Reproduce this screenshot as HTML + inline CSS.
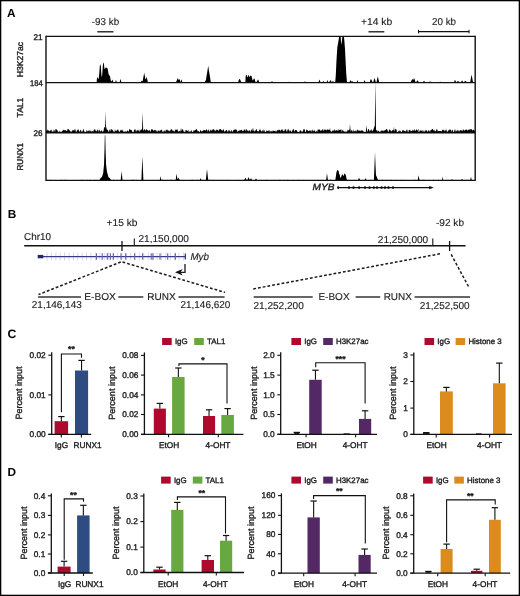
<!DOCTYPE html>
<html><head><meta charset="utf-8"><style>
html,body{margin:0;padding:0;background:#fff;}
svg{display:block;font-family:"Liberation Sans", sans-serif;will-change:transform;}
text{stroke:#1a1a1a;stroke-width:0.35px;text-rendering:geometricPrecision;}
</style></head><body>
<svg width="520" height="596" viewBox="0 0 520 596">
<rect x="0" y="0" width="520" height="596" fill="#fff"/>
<text x="7.1" y="17.2" font-size="11.8" text-anchor="start" font-weight="bold" fill="#000" style="stroke-width:0">A</text>
<text x="91.8" y="24.7" font-size="10.0" text-anchor="start" fill="#1a1a1a" textLength="27.3" lengthAdjust="spacingAndGlyphs" style="stroke-width:0.12px">-93 kb</text>
<line x1="97.3" y1="31.8" x2="113.5" y2="31.8" stroke="#111" stroke-width="1.3"/>
<text x="361.0" y="24.6" font-size="10.0" text-anchor="start" fill="#1a1a1a" textLength="31.2" lengthAdjust="spacingAndGlyphs" style="stroke-width:0.12px">+14 kb</text>
<line x1="368.5" y1="31.8" x2="384.3" y2="31.8" stroke="#111" stroke-width="1.3"/>
<text x="432.0" y="24.6" font-size="10.0" text-anchor="start" fill="#1a1a1a" textLength="24.0" lengthAdjust="spacingAndGlyphs" style="stroke-width:0.12px">20 kb</text>
<line x1="418.3" y1="31.6" x2="469.2" y2="31.6" stroke="#111" stroke-width="1.3"/>
<line x1="418.5" y1="29.8" x2="418.5" y2="33.4" stroke="#111" stroke-width="1.0"/>
<line x1="469.0" y1="29.8" x2="469.0" y2="33.4" stroke="#111" stroke-width="1.0"/>
<path d="M46.0,82.6 L46.00,82.43 L46.50,82.22 L47.00,82.34 L47.50,82.18 L48.00,82.16 L48.50,82.55 L49.00,82.59 L49.50,82.01 L50.00,82.42 L50.50,82.44 L51.00,81.90 L51.50,82.27 L52.00,82.01 L52.50,82.27 L53.00,82.15 L53.50,82.49 L54.00,82.16 L54.50,81.99 L55.00,82.23 L55.50,82.08 L56.00,82.13 L56.50,82.56 L57.00,82.07 L57.50,82.19 L58.00,82.39 L58.50,82.58 L59.00,81.99 L59.50,82.27 L60.00,82.10 L60.50,81.98 L61.00,82.10 L61.50,81.96 L62.00,82.32 L62.50,82.04 L63.00,82.29 L63.50,81.95 L64.00,81.98 L64.50,82.53 L65.00,82.50 L65.50,82.45 L66.00,81.92 L66.50,82.29 L67.00,82.16 L67.50,82.39 L68.00,82.24 L68.50,82.33 L69.00,82.35 L69.50,82.19 L70.00,82.19 L70.50,81.97 L71.00,82.12 L71.50,81.95 L72.00,82.00 L72.50,81.91 L73.00,82.13 L73.50,82.49 L74.00,82.00 L74.50,81.92 L75.00,81.97 L75.50,82.20 L76.00,82.10 L76.50,82.45 L77.00,82.02 L77.50,82.20 L78.00,82.40 L78.50,82.56 L79.00,82.00 L79.50,81.91 L80.00,82.54 L80.50,82.04 L81.00,82.31 L81.50,82.49 L82.00,82.39 L82.50,82.06 L83.00,81.99 L83.50,82.57 L84.00,82.17 L84.50,82.57 L85.00,82.10 L85.50,82.37 L86.00,81.98 L86.50,81.91 L87.00,82.25 L87.50,81.90 L88.00,82.38 L88.50,82.55 L89.00,82.18 L89.50,82.58 L90.00,82.46 L90.50,82.31 L91.00,82.17 L91.50,82.49 L92.00,82.57 L92.50,81.99 L93.00,82.38 L93.50,81.93 L94.00,81.97 L94.50,82.34 L95.00,82.28 L95.50,82.24 L96.00,82.15 L96.50,82.18 L97.00,82.21 L97.50,82.17 L98.00,81.94 L98.50,82.25 L99.00,82.30 L99.50,82.10 L100.00,82.43 L100.50,82.39 L101.00,81.92 L101.50,82.24 L102.00,82.22 L102.50,82.59 L103.00,82.31 L103.50,82.19 L104.00,82.59 L104.50,82.17 L105.00,82.16 L105.50,82.56 L106.00,82.16 L106.50,82.27 L107.00,82.12 L107.50,82.35 L108.00,82.11 L108.50,82.08 L109.00,82.58 L109.50,82.56 L110.00,82.13 L110.50,81.93 L111.00,82.42 L111.50,82.28 L112.00,82.19 L112.50,82.38 L113.00,82.35 L113.50,82.38 L114.00,82.34 L114.50,82.18 L115.00,82.39 L115.50,81.34 L116.00,80.06 L116.50,81.58 L117.00,82.20 L117.50,82.09 L118.00,82.38 L118.50,82.44 L119.00,82.04 L119.50,82.43 L119.60,82.47 L120.00,80.78 L120.50,78.71 L121.00,81.02 L121.40,82.37 L121.50,82.37 L122.00,82.02 L122.50,82.29 L123.00,82.00 L123.50,82.48 L124.00,82.36 L124.50,82.14 L125.00,81.98 L125.50,82.28 L126.00,82.44 L126.50,82.52 L127.00,82.23 L127.50,82.47 L128.00,82.04 L128.50,82.01 L129.00,82.47 L129.50,82.40 L130.00,82.03 L130.50,82.15 L131.00,82.04 L131.50,82.36 L132.00,82.51 L132.50,82.40 L133.00,82.04 L133.50,82.41 L134.00,82.36 L134.50,82.31 L135.00,82.31 L135.50,82.31 L136.00,81.96 L136.50,82.49 L137.00,82.60 L137.50,81.94 L138.00,81.98 L138.50,81.91 L139.00,82.30 L139.50,81.93 L140.00,81.95 L140.50,82.44 L141.00,81.58 L141.50,81.01 L142.00,80.64 L142.40,81.14 L142.50,81.40 L143.00,79.16 L143.50,76.57 L144.00,74.02 L144.20,72.59 L144.50,74.40 L145.00,76.70 L145.30,78.84 L145.50,79.30 L146.00,79.15 L146.50,76.88 L146.60,76.47 L147.00,78.16 L147.50,80.50 L147.90,82.59 L148.00,82.08 L148.50,82.48 L149.00,82.39 L149.50,82.14 L150.00,82.23 L150.50,82.31 L151.00,81.94 L151.50,82.17 L152.00,82.36 L152.50,82.42 L153.00,82.00 L153.50,82.27 L154.00,82.05 L154.50,82.35 L155.00,82.46 L155.50,82.23 L156.00,82.03 L156.50,82.48 L157.00,82.05 L157.50,81.95 L158.00,82.04 L158.50,82.02 L159.00,82.59 L159.50,82.16 L160.00,82.00 L160.50,82.57 L161.00,82.41 L161.50,82.41 L162.00,82.23 L162.50,82.30 L163.00,82.27 L163.50,82.06 L164.00,82.60 L164.50,82.56 L165.00,82.51 L165.50,82.51 L166.00,82.55 L166.50,81.92 L167.00,82.00 L167.50,82.54 L168.00,82.25 L168.50,82.38 L169.00,82.38 L169.50,82.35 L170.00,82.15 L170.50,82.19 L171.00,82.35 L171.50,82.47 L172.00,82.37 L172.50,82.51 L173.00,82.21 L173.50,82.10 L174.00,82.33 L174.50,82.54 L175.00,82.48 L175.50,82.34 L176.00,82.18 L176.50,80.89 L177.00,80.00 L177.50,78.54 L177.80,77.96 L178.00,78.56 L178.30,79.31 L178.50,79.69 L179.00,80.07 L179.50,78.81 L179.60,78.91 L180.00,80.24 L180.50,81.85 L180.70,82.22 L181.00,80.91 L181.50,79.35 L182.00,81.10 L182.30,82.30 L182.50,81.98 L183.00,81.94 L183.50,82.34 L184.00,81.97 L184.50,82.05 L185.00,82.42 L185.50,82.28 L186.00,82.51 L186.50,82.03 L187.00,82.14 L187.50,81.98 L188.00,82.05 L188.50,82.13 L189.00,82.09 L189.50,82.21 L190.00,82.53 L190.50,82.19 L191.00,82.60 L191.50,82.50 L192.00,82.06 L192.50,82.57 L193.00,82.54 L193.50,82.53 L194.00,81.98 L194.50,82.47 L195.00,82.58 L195.50,82.01 L196.00,82.52 L196.50,82.01 L197.00,82.13 L197.50,82.01 L198.00,81.93 L198.50,82.19 L199.00,82.04 L199.50,82.57 L200.00,82.06 L200.50,82.24 L201.00,82.10 L201.50,82.53 L202.00,82.08 L202.50,81.95 L203.00,82.56 L203.50,82.37 L204.00,82.21 L204.50,82.02 L205.00,81.43 L205.50,80.47 L205.60,80.63 L206.00,79.63 L206.50,76.36 L207.00,73.44 L207.50,70.29 L208.00,67.09 L208.20,65.85 L208.50,67.71 L209.00,71.12 L209.50,74.00 L210.00,76.84 L210.50,80.41 L210.80,82.08 L211.00,82.49 L211.50,82.12 L212.00,82.07 L212.50,82.13 L213.00,82.24 L213.50,82.26 L214.00,82.15 L214.50,81.97 L215.00,82.50 L215.50,82.53 L216.00,82.08 L216.50,81.96 L217.00,82.24 L217.50,82.29 L218.00,82.10 L218.50,82.47 L219.00,82.41 L219.50,82.46 L220.00,82.19 L220.50,82.38 L221.00,82.44 L221.50,82.12 L222.00,81.93 L222.50,82.39 L223.00,82.11 L223.50,82.31 L224.00,82.00 L224.50,82.19 L225.00,82.41 L225.50,82.45 L226.00,82.58 L226.50,82.26 L227.00,82.33 L227.50,82.48 L228.00,82.35 L228.50,82.37 L229.00,82.06 L229.50,82.50 L230.00,81.91 L230.50,82.26 L231.00,82.18 L231.50,82.27 L232.00,82.02 L232.50,82.02 L233.00,82.21 L233.50,82.26 L234.00,82.10 L234.50,82.00 L235.00,82.32 L235.50,82.09 L236.00,81.93 L236.50,82.27 L237.00,82.44 L237.50,82.44 L238.00,82.10 L238.50,82.13 L239.00,81.93 L239.50,82.00 L240.00,82.43 L240.50,82.47 L241.00,82.42 L241.50,82.47 L242.00,82.11 L242.50,82.00 L243.00,81.97 L243.50,82.42 L244.00,81.99 L244.50,82.38 L245.00,82.30 L245.50,82.09 L246.00,82.54 L246.50,82.54 L247.00,82.02 L247.50,82.40 L248.00,82.35 L248.50,82.19 L249.00,82.13 L249.50,82.60 L250.00,82.37 L250.50,82.29 L251.00,82.26 L251.50,82.45 L252.00,82.19 L252.50,81.93 L253.00,82.33 L253.50,82.22 L254.00,82.52 L254.50,82.41 L255.00,82.13 L255.50,82.52 L256.00,81.98 L256.50,81.96 L257.00,82.53 L257.50,81.94 L258.00,82.34 L258.50,82.06 L259.00,82.07 L259.50,82.39 L260.00,82.13 L260.50,82.14 L261.00,82.04 L261.50,82.41 L262.00,82.07 L262.50,81.93 L263.00,82.13 L263.50,82.22 L264.00,82.52 L264.50,82.25 L265.00,82.35 L265.50,82.10 L266.00,82.13 L266.50,82.20 L267.00,82.47 L267.50,82.15 L268.00,82.16 L268.50,82.47 L269.00,81.98 L269.50,82.14 L270.00,82.51 L270.50,81.95 L271.00,82.50 L271.50,81.87 L272.00,81.10 L272.50,81.68 L273.00,82.21 L273.50,82.15 L274.00,82.28 L274.50,82.38 L275.00,82.48 L275.50,82.55 L276.00,82.10 L276.50,82.07 L277.00,82.22 L277.50,82.08 L278.00,82.35 L278.50,82.41 L279.00,82.33 L279.50,81.99 L280.00,82.57 L280.50,82.25 L281.00,82.43 L281.50,82.06 L282.00,82.35 L282.50,82.37 L283.00,82.32 L283.50,82.22 L284.00,82.06 L284.50,82.35 L285.00,82.01 L285.50,82.52 L286.00,82.41 L286.50,82.53 L287.00,82.52 L287.50,82.05 L288.00,82.09 L288.50,82.07 L289.00,81.67 L289.50,81.91 L290.00,82.08 L290.50,82.03 L291.00,82.08 L291.50,82.19 L292.00,82.50 L292.50,82.32 L293.00,82.46 L293.50,82.23 L294.00,82.20 L294.50,82.46 L295.00,82.42 L295.50,82.05 L296.00,82.58 L296.50,82.04 L297.00,81.98 L297.50,81.94 L298.00,82.33 L298.50,82.21 L299.00,82.19 L299.50,82.16 L300.00,81.92 L300.50,82.12 L301.00,82.39 L301.50,82.00 L302.00,82.26 L302.50,82.18 L303.00,82.09 L303.50,82.60 L304.00,82.06 L304.50,81.74 L305.00,81.46 L305.50,81.83 L306.00,82.28 L306.50,82.46 L307.00,82.23 L307.50,82.57 L308.00,82.25 L308.50,82.15 L309.00,82.29 L309.50,82.20 L310.00,81.93 L310.50,81.98 L311.00,82.51 L311.50,82.05 L312.00,82.16 L312.50,82.56 L313.00,82.35 L313.50,82.44 L314.00,82.55 L314.50,82.22 L315.00,81.95 L315.50,82.37 L316.00,81.99 L316.50,82.11 L317.00,82.51 L317.50,82.00 L318.00,82.18 L318.50,81.95 L319.00,80.85 L319.50,79.58 L320.00,81.11 L320.50,82.04 L321.00,81.95 L321.50,82.00 L322.00,82.29 L322.50,82.07 L323.00,81.51 L323.50,81.02 L324.00,81.82 L324.50,82.55 L325.00,82.46 L325.50,82.49 L326.00,82.25 L326.50,82.11 L326.70,82.22 L327.00,81.48 L327.50,79.95 L328.00,81.56 L328.30,82.27 L328.50,82.07 L329.00,82.32 L329.50,81.81 L330.00,80.64 L330.50,80.10 L331.00,81.01 L331.50,81.67 L332.00,82.23 L332.20,82.18 L332.50,81.62 L333.00,80.40 L333.50,81.63 L333.80,82.05 L334.00,82.50 L334.50,82.28 L335.00,82.46 L335.50,82.45 L336.00,82.48 L336.50,82.32 L337.00,82.48 L337.50,82.58 L338.00,82.52 L338.50,82.48 L339.00,82.26 L339.50,82.56 L340.00,82.58 L340.50,82.29 L341.00,82.31 L341.50,82.11 L342.00,82.56 L342.50,82.32 L343.00,82.32 L343.50,82.58 L344.00,81.92 L344.50,82.45 L345.00,82.53 L345.50,82.27 L346.00,82.48 L346.50,82.16 L347.00,82.36 L347.50,82.51 L348.00,82.56 L348.50,82.09 L349.00,82.41 L349.50,82.05 L350.00,81.17 L350.50,79.75 L351.00,81.29 L351.50,81.68 L352.00,80.91 L352.50,81.28 L353.00,82.16 L353.50,82.36 L354.00,82.53 L354.50,82.12 L355.00,81.92 L355.50,82.19 L356.00,82.60 L356.50,82.58 L356.70,82.54 L357.00,81.54 L357.50,80.07 L358.00,81.62 L358.30,82.14 L358.50,81.97 L359.00,82.46 L359.50,81.92 L360.00,82.27 L360.50,82.04 L361.00,81.96 L361.50,81.94 L362.00,82.58 L362.50,82.39 L363.00,82.18 L363.30,81.94 L363.50,82.21 L364.00,81.23 L364.50,80.01 L365.00,81.35 L365.50,81.99 L365.70,82.37 L366.00,82.12 L366.50,81.95 L367.00,82.48 L367.50,82.08 L368.00,82.09 L368.50,82.02 L369.00,82.21 L369.50,81.95 L369.70,82.35 L369.90,81.68 L370.00,81.50 L370.50,79.55 L371.00,79.56 L371.20,79.21 L371.30,79.53 L371.50,79.63 L372.00,80.95 L372.50,82.10 L373.00,82.33 L373.20,82.26 L373.50,81.45 L374.00,79.33 L374.50,78.08 L375.00,79.50 L375.50,81.03 L375.80,82.13 L376.00,82.53 L376.50,82.43 L377.00,79.78 L377.50,77.69 L377.80,76.19 L378.00,77.08 L378.50,79.61 L379.00,81.53 L379.10,82.09 L379.50,82.37 L380.00,82.34 L380.50,82.55 L381.00,82.32 L381.50,81.93 L382.00,82.53 L382.50,82.20 L383.00,82.52 L383.50,82.54 L384.00,82.15 L384.50,82.43 L385.00,82.57 L385.50,82.49 L386.00,82.15 L386.50,82.19 L387.00,82.59 L387.50,82.44 L388.00,81.92 L388.50,82.45 L389.00,82.21 L389.50,82.31 L390.00,82.05 L390.50,82.18 L391.00,82.05 L391.50,82.23 L392.00,82.47 L392.50,82.48 L393.00,82.54 L393.50,82.02 L394.00,82.52 L394.50,82.58 L395.00,81.92 L395.50,82.46 L396.00,81.97 L396.50,82.54 L397.00,82.27 L397.50,82.44 L398.00,82.02 L398.50,82.17 L399.00,82.15 L399.50,82.07 L400.00,81.99 L400.50,82.36 L401.00,82.18 L401.50,82.29 L402.00,82.52 L402.50,82.02 L403.00,82.18 L403.50,82.03 L404.00,82.46 L404.50,82.22 L405.00,82.28 L405.50,82.09 L406.00,82.55 L406.50,82.36 L407.00,82.26 L407.50,82.55 L408.00,82.21 L408.50,82.09 L409.00,82.30 L409.50,82.15 L410.00,82.18 L410.50,82.45 L411.00,81.48 L411.50,80.15 L412.00,79.74 L412.50,78.80 L413.00,79.92 L413.50,79.38 L414.00,77.88 L414.50,78.88 L415.00,80.56 L415.50,81.99 L416.00,81.91 L416.30,82.17 L416.50,81.61 L417.00,81.06 L417.50,80.31 L418.00,80.77 L418.50,81.63 L418.70,81.94 L419.00,82.26 L419.50,82.06 L420.00,82.32 L420.50,81.90 L421.00,81.96 L421.50,82.40 L422.00,81.95 L422.50,82.47 L422.80,82.53 L423.00,81.84 L423.50,81.52 L424.00,80.74 L424.50,81.28 L425.00,82.32 L425.20,82.08 L425.50,82.41 L426.00,82.30 L426.50,82.36 L427.00,82.08 L427.50,82.08 L428.00,82.40 L428.50,82.53 L429.00,82.06 L429.50,81.65 L430.00,81.55 L430.50,81.83 L431.00,81.73 L431.50,82.11 L432.00,81.92 L432.50,81.91 L433.00,81.99 L433.50,82.34 L434.00,82.49 L434.50,82.38 L435.00,82.28 L435.50,82.23 L436.00,82.22 L436.50,82.35 L437.00,82.00 L437.50,82.40 L438.00,82.28 L438.50,81.98 L439.00,82.04 L439.50,81.99 L440.00,81.63 L440.50,81.64 L441.00,82.59 L441.50,82.51 L442.00,82.23 L442.50,82.22 L443.00,82.48 L443.50,82.56 L444.00,82.46 L444.50,82.06 L445.00,82.27 L445.50,81.91 L446.00,82.05 L446.50,81.91 L447.00,82.58 L447.50,82.47 L448.00,82.59 L448.50,82.30 L449.00,82.36 L449.50,82.56 L450.00,82.22 L450.50,82.53 L451.00,82.38 L451.50,82.43 L452.00,82.04 L452.50,82.31 L453.00,82.42 L453.50,82.57 L454.00,82.30 L454.50,80.96 L455.00,79.73 L455.50,80.76 L456.00,82.03 L456.50,82.43 L457.00,82.11 L457.50,81.27 L458.00,80.85 L458.50,81.44 L459.00,81.62 L459.50,82.21 L460.00,82.40 L460.50,82.48 L461.00,82.09 L461.50,81.15 L462.00,80.47 L462.50,80.97 L463.00,81.77 L463.50,82.13 L464.00,81.95 L464.50,81.53 L465.00,81.18 L465.50,80.81 L466.00,81.24 L466.50,81.98 L467.00,82.47 L467.50,82.12 L468.00,81.91 L468.50,82.22 L469.00,82.31 L469.50,82.35 L470.00,82.28 L470.20,82.04 L470.50,80.61 L471.00,77.47 L471.50,75.25 L471.60,74.58 L472.00,76.66 L472.50,79.53 L473.00,82.00 L473.50,82.02 L474.00,81.95 L474.50,82.17 L475.00,82.58 L475.2,82.6 Z" fill="#000"/>
<path d="M96.6,82.6 L97.0,78 L97.4,77 L97.9,78.5 L98.3,79 L98.8,78 L99.4,72 L99.8,66 L100.3,63.9 L100.8,66 L101.2,72 L101.6,76.5 L102.0,76.8 L102.4,72 L102.8,66 L103.3,62.6 L103.9,63.5 L104.4,68.5 L104.8,69 L105.4,68 L106.0,67.6 L106.8,67.8 L107.6,68.5 L108.2,72 L108.7,74.6 L109.4,75.5 L110.0,76.3 L110.5,79 L110.9,81 L111.4,81.5 L112.0,80.5 L112.5,79.4 L113.0,81 L113.5,82.6 Z" fill="#000"/>
<path d="M238.0,82.6 L238.8,80 L239.6,78.7 L240.4,80 L241.2,82.6 L245.3,82.6 L245.7,76 L246.2,75 L246.9,75.2 L247.3,77 L247.7,77.5 L248.1,75.3 L248.8,75.4 L249.3,76.5 L249.8,77 L250.2,76 L250.7,75.5 L251.5,76 L252.0,78 L252.5,80 L253.0,80.5 L253.6,79 L254.2,78.2 L254.8,79.5 L255.3,81.8 L256.5,82.0 L257.4,80.5 L258.1,79.6 L258.8,81 L259.3,82.6 Z" fill="#000"/>
<path d="M335.3,180.3 L335.9,176 L336.5,172 L337.2,170.2 L337.9,170 L338.6,171 L339.2,174 L339.8,175 L340.3,177.6 L340.9,177.8 L341.5,176 L342.0,174.6 L342.6,174.4 L343.2,175.5 L343.7,176 L344.2,174 L344.8,173.6 L345.4,174.2 L346.0,176 L346.6,179 L347.2,180.3 Z" fill="#000"/>
<path d="M99.5,180.3 L100.5,178 L102,177 L103.2,173 L104.0,165 L104.5,150 L104.8,136 L105.0,134.2 L105.3,136 L105.6,150 L106.1,165 L107.0,172 L107.6,174 L108.4,177 L109.5,178 L110.8,179.5 L111.5,180.3 Z" fill="#000"/>
<path d="M335.2,82.6 L335.8,75 L336.5,60 L337.3,47.5 L338.2,42.5 L339.0,37.5 L339.4,36.4 L340.6,36.4 L341.0,41 L341.4,45 L341.9,41 L342.4,36.4 L343.9,36.4 L344.4,41 L345.0,49 L345.6,61 L346.2,73 L347.0,82.6 Z" fill="#000"/>
<path d="M46.0,132.9 L46.00,130.76 L46.60,130.40 L47.20,129.16 L47.80,130.72 L48.40,130.57 L49.00,130.30 L49.60,131.67 L50.20,130.56 L50.80,130.16 L51.40,129.60 L52.00,131.98 L52.60,131.27 L53.20,131.99 L53.80,129.55 L54.40,129.94 L55.00,132.16 L55.60,128.96 L56.20,129.02 L56.80,130.08 L57.40,130.21 L58.00,131.76 L58.60,132.25 L59.20,130.50 L59.80,132.10 L60.40,131.65 L61.00,131.48 L61.60,132.20 L62.20,130.72 L62.80,130.80 L63.40,129.44 L64.00,130.53 L64.60,130.12 L65.20,130.60 L65.80,130.05 L66.40,130.75 L67.00,131.35 L67.60,128.91 L68.20,128.91 L68.80,129.44 L69.40,129.89 L70.00,131.23 L70.60,131.52 L71.20,131.32 L71.80,132.06 L72.40,129.69 L73.00,130.94 L73.60,129.42 L74.20,130.99 L74.80,129.04 L75.40,129.42 L76.00,132.30 L76.60,131.59 L77.20,129.21 L77.80,130.70 L78.40,128.97 L79.00,130.95 L79.60,132.05 L80.20,130.16 L80.80,129.65 L81.40,131.38 L82.00,132.00 L82.60,131.17 L83.20,129.02 L83.80,129.72 L84.40,131.90 L85.00,131.46 L85.60,131.96 L86.20,132.10 L86.80,129.59 L87.40,131.70 L88.00,130.40 L88.60,130.78 L89.20,131.65 L89.80,129.81 L90.40,131.85 L91.00,130.11 L91.60,131.90 L92.20,130.87 L92.80,131.58 L93.40,131.38 L94.00,129.00 L94.60,129.57 L95.20,131.27 L95.80,129.29 L96.40,131.58 L97.00,130.96 L97.60,129.40 L98.20,130.12 L98.80,131.96 L99.40,128.94 L100.00,131.57 L100.60,131.42 L101.20,129.67 L101.80,131.18 L102.40,131.29 L103.00,132.05 L103.60,130.39 L104.20,127.12 L104.50,127.47 L104.80,127.06 L104.90,128.10 L105.30,115.96 L105.40,110.54 L105.90,129.16 L106.00,128.60 L106.50,126.35 L106.60,128.93 L107.20,130.53 L107.70,129.21 L107.80,129.52 L108.40,131.45 L109.00,131.65 L109.60,129.79 L110.20,129.10 L110.80,131.63 L111.40,129.07 L112.00,129.30 L112.60,130.25 L113.20,130.87 L113.80,131.95 L114.40,132.17 L115.00,129.03 L115.60,131.49 L116.20,129.90 L116.80,131.43 L117.40,129.50 L117.50,130.27 L118.00,128.80 L118.50,131.70 L118.60,129.85 L119.20,132.07 L119.80,131.52 L120.40,130.40 L121.00,129.40 L121.60,130.21 L122.20,131.35 L122.80,129.18 L123.40,131.61 L124.00,132.24 L124.60,131.38 L125.20,130.78 L125.80,132.09 L126.40,131.70 L127.00,131.05 L127.60,130.35 L128.20,131.85 L128.80,131.07 L129.40,129.27 L130.00,128.97 L130.60,130.07 L131.20,129.95 L131.80,130.31 L132.40,131.82 L133.00,132.18 L133.60,132.24 L134.20,129.21 L134.80,129.92 L135.40,129.03 L136.00,132.23 L136.60,130.14 L137.20,130.66 L137.80,129.82 L138.40,131.22 L139.00,128.90 L139.60,132.04 L140.20,130.44 L140.80,129.79 L141.40,129.24 L142.00,129.79 L142.05,129.91 L142.60,112.30 L143.15,129.19 L143.20,131.10 L143.80,129.97 L144.40,129.24 L145.00,129.34 L145.60,130.88 L146.20,129.61 L146.80,129.36 L147.40,130.35 L148.00,130.18 L148.60,131.00 L149.20,130.32 L149.80,130.23 L150.40,132.03 L151.00,130.13 L151.60,128.92 L152.20,129.31 L152.80,129.82 L153.40,130.98 L154.00,129.80 L154.60,130.32 L155.20,130.80 L155.80,129.45 L156.40,132.02 L157.00,129.75 L157.60,132.20 L158.20,130.26 L158.80,130.66 L159.40,131.52 L160.00,129.93 L160.60,130.61 L161.20,130.21 L161.80,129.17 L162.40,131.43 L163.00,132.26 L163.60,131.28 L164.20,129.99 L164.80,131.61 L165.40,131.72 L166.00,129.22 L166.60,130.06 L167.20,130.80 L167.80,129.27 L168.40,131.19 L169.00,130.04 L169.60,131.63 L170.20,130.83 L170.80,129.56 L171.40,129.19 L172.00,129.31 L172.60,130.99 L173.20,130.32 L173.80,131.22 L174.40,131.84 L175.00,130.61 L175.60,129.45 L176.20,129.41 L176.80,129.88 L177.40,129.07 L178.00,131.36 L178.60,131.72 L179.20,130.77 L179.80,131.36 L180.40,131.57 L180.50,130.89 L181.00,127.67 L181.50,130.62 L181.60,131.23 L182.20,129.45 L182.80,128.96 L183.40,130.76 L184.00,132.05 L184.60,132.19 L185.20,129.33 L185.80,132.16 L186.40,129.89 L187.00,130.36 L187.60,131.25 L188.20,129.61 L188.80,132.24 L189.40,131.84 L190.00,130.75 L190.60,132.22 L191.20,129.48 L191.80,131.49 L192.40,131.82 L193.00,132.14 L193.60,130.16 L194.20,130.78 L194.80,130.16 L195.40,130.07 L196.00,129.55 L196.60,129.04 L197.20,129.97 L197.80,131.62 L198.40,130.68 L199.00,131.69 L199.60,132.26 L200.20,130.69 L200.80,129.87 L201.40,131.69 L202.00,131.37 L202.60,131.12 L203.20,129.93 L203.80,130.53 L204.40,130.21 L205.00,129.73 L205.60,130.96 L206.20,129.61 L206.80,129.22 L207.40,132.00 L208.00,129.13 L208.60,129.84 L209.20,131.86 L209.80,130.76 L210.40,130.17 L211.00,129.21 L211.60,131.02 L212.20,130.37 L212.80,129.31 L213.40,129.59 L214.00,129.09 L214.60,130.72 L215.20,130.09 L215.80,131.60 L216.40,129.85 L217.00,129.52 L217.60,130.12 L218.20,129.86 L218.80,131.57 L219.40,129.24 L220.00,128.97 L220.60,128.98 L221.20,130.47 L221.80,129.61 L222.40,131.21 L223.00,129.21 L223.60,129.39 L224.20,131.12 L224.80,132.02 L225.40,130.80 L226.00,130.43 L226.60,129.69 L227.20,130.64 L227.80,132.20 L228.40,129.55 L229.00,132.08 L229.60,129.58 L230.20,131.71 L230.80,131.16 L231.40,129.62 L232.00,131.82 L232.60,131.79 L233.20,130.54 L233.80,129.84 L234.40,129.44 L235.00,129.96 L235.60,129.08 L236.20,130.63 L236.80,129.07 L237.40,132.01 L238.00,131.55 L238.60,130.51 L239.20,131.31 L239.80,129.82 L240.40,130.13 L241.00,130.52 L241.60,129.43 L242.20,130.40 L242.80,131.24 L243.40,131.00 L244.00,129.43 L244.60,129.24 L245.20,131.59 L245.80,129.41 L246.40,129.01 L247.00,130.52 L247.60,130.35 L248.20,131.62 L248.80,130.48 L249.40,130.59 L250.00,130.24 L250.60,132.21 L251.20,129.00 L251.80,130.55 L252.40,130.94 L252.50,129.58 L253.00,127.39 L253.50,130.63 L253.60,129.95 L254.20,132.08 L254.80,130.47 L255.40,130.89 L256.00,129.05 L256.60,129.16 L257.20,131.38 L257.80,130.69 L258.40,131.87 L259.00,130.83 L259.60,129.53 L260.20,129.24 L260.80,130.68 L261.40,131.22 L262.00,131.65 L262.60,130.20 L263.20,129.15 L263.80,131.86 L264.40,129.65 L265.00,132.22 L265.60,131.64 L266.20,131.53 L266.80,129.96 L267.40,131.20 L268.00,131.09 L268.60,130.19 L269.20,131.94 L269.80,129.81 L270.40,131.88 L271.00,130.56 L271.60,131.45 L272.20,131.63 L272.80,130.50 L273.40,130.81 L274.00,131.02 L274.60,130.89 L275.20,130.50 L275.80,131.76 L276.40,131.61 L277.00,130.15 L277.60,130.13 L278.20,130.50 L278.80,129.41 L279.40,130.22 L280.00,129.39 L280.60,131.51 L281.20,129.78 L281.80,129.54 L282.40,129.23 L283.00,131.23 L283.60,131.23 L284.20,129.16 L284.80,131.56 L285.40,128.91 L286.00,129.28 L286.60,131.84 L287.20,131.49 L287.50,129.83 L287.80,129.62 L288.00,128.97 L288.40,128.87 L288.50,130.87 L289.00,129.61 L289.60,131.87 L290.20,130.93 L290.80,129.97 L291.40,132.24 L292.00,131.62 L292.60,129.98 L293.20,129.20 L293.80,129.01 L294.40,131.91 L295.00,130.58 L295.60,129.72 L296.20,130.59 L296.80,129.97 L297.40,131.66 L298.00,132.06 L298.60,131.94 L299.20,132.17 L299.80,130.42 L300.40,130.55 L301.00,130.37 L301.60,131.80 L302.20,131.67 L302.80,131.61 L303.40,129.44 L304.00,128.93 L304.60,129.15 L305.20,131.98 L305.80,132.09 L306.40,129.06 L307.00,130.73 L307.60,129.70 L308.20,131.19 L308.80,130.71 L309.40,130.55 L310.00,130.84 L310.60,130.26 L311.20,132.25 L311.80,129.92 L312.40,129.43 L313.00,131.68 L313.60,130.76 L314.20,129.79 L314.80,130.92 L315.40,131.64 L316.00,131.74 L316.60,130.56 L317.20,132.25 L317.80,129.26 L318.40,129.57 L319.00,129.90 L319.60,129.37 L320.20,130.16 L320.80,130.92 L321.40,130.26 L322.00,130.59 L322.60,128.96 L323.20,129.56 L323.80,131.42 L324.40,129.20 L325.00,129.77 L325.60,129.65 L326.20,129.53 L326.80,130.92 L327.40,129.25 L328.00,129.31 L328.60,129.94 L329.20,129.69 L329.50,129.70 L329.80,129.42 L330.00,127.34 L330.40,131.56 L330.50,131.14 L331.00,130.71 L331.60,132.26 L332.20,131.09 L332.80,130.13 L333.40,130.18 L334.00,131.51 L334.60,129.09 L335.20,130.04 L335.80,131.15 L336.40,130.06 L337.00,130.36 L337.60,130.49 L338.20,130.98 L338.80,128.90 L339.40,130.12 L340.00,129.92 L340.60,129.71 L341.20,128.97 L341.80,132.22 L342.40,130.21 L343.00,129.79 L343.60,131.43 L344.20,130.93 L344.80,132.13 L345.40,131.64 L346.00,131.02 L346.60,131.97 L347.20,131.45 L347.80,129.22 L348.40,130.43 L349.00,130.57 L349.50,129.01 L349.60,129.27 L350.00,123.42 L350.20,126.83 L350.50,129.55 L350.80,132.04 L351.40,130.27 L352.00,129.72 L352.60,132.15 L353.20,129.14 L353.80,131.76 L354.40,130.70 L355.00,131.72 L355.60,130.62 L356.20,130.22 L356.80,132.10 L357.40,129.09 L358.00,130.87 L358.60,130.51 L359.20,130.27 L359.80,131.06 L360.40,131.33 L361.00,130.07 L361.60,130.39 L362.20,131.34 L362.80,129.86 L363.40,131.29 L364.00,132.25 L364.60,131.47 L365.20,132.15 L365.80,131.77 L366.00,129.73 L366.40,127.37 L366.50,124.75 L367.00,129.76 L367.60,132.13 L368.20,128.94 L368.80,129.09 L369.40,132.05 L370.00,129.22 L370.60,130.84 L371.20,130.68 L371.80,128.99 L372.40,131.47 L373.00,130.52 L373.60,129.11 L374.20,127.34 L374.80,125.71 L375.40,80.47 L376.00,129.52 L376.60,130.25 L377.20,131.91 L377.80,130.18 L378.40,130.75 L379.00,131.61 L379.60,132.12 L380.20,130.50 L380.80,131.88 L381.40,130.79 L382.00,130.03 L382.60,130.75 L383.20,131.41 L383.80,130.32 L384.40,130.87 L385.00,129.65 L385.60,130.50 L386.20,128.91 L386.80,129.06 L387.40,129.80 L388.00,131.49 L388.60,131.91 L389.20,129.26 L389.80,129.63 L390.40,130.18 L391.00,131.08 L391.60,131.38 L392.20,129.97 L392.80,130.38 L393.40,130.29 L393.50,130.15 L394.00,126.74 L394.50,131.65 L394.60,131.45 L395.20,128.97 L395.80,129.19 L396.40,129.31 L397.00,132.17 L397.60,132.09 L398.20,131.38 L398.80,130.85 L399.40,130.18 L400.00,131.95 L400.60,130.46 L401.20,132.05 L401.80,132.01 L402.40,130.00 L403.00,130.43 L403.60,130.15 L404.20,131.03 L404.80,130.67 L405.40,131.58 L406.00,131.13 L406.60,129.77 L407.20,129.45 L407.80,132.05 L408.40,131.89 L409.00,129.55 L409.60,130.18 L410.20,129.69 L410.80,131.58 L411.40,130.86 L412.00,131.42 L412.60,129.55 L413.20,131.05 L413.80,130.08 L414.40,128.94 L415.00,131.19 L415.60,130.43 L416.20,129.76 L416.80,129.17 L417.40,130.85 L417.50,131.04 L418.00,129.17 L418.50,129.32 L418.60,132.03 L419.20,132.02 L419.80,130.38 L420.40,130.65 L421.00,129.97 L421.60,131.28 L422.20,129.66 L422.80,132.04 L423.40,131.57 L424.00,130.05 L424.60,132.02 L425.20,131.27 L425.80,129.84 L426.40,129.94 L427.00,131.34 L427.60,131.81 L428.20,131.08 L428.80,129.83 L429.40,131.05 L430.00,131.90 L430.60,129.89 L431.20,130.36 L431.80,129.18 L432.40,129.10 L433.00,129.19 L433.60,130.81 L434.20,129.57 L434.80,131.26 L435.40,131.22 L436.00,130.94 L436.60,129.12 L437.20,129.26 L437.80,131.46 L438.40,131.07 L439.00,131.06 L439.60,131.06 L440.20,130.95 L440.80,130.98 L441.40,131.64 L442.00,130.38 L442.60,129.59 L443.20,130.46 L443.80,129.46 L444.40,130.39 L445.00,131.70 L445.60,129.72 L446.20,129.30 L446.80,131.34 L447.40,132.22 L448.00,130.55 L448.60,130.45 L449.20,130.37 L449.80,129.01 L450.40,130.09 L451.00,129.57 L451.60,132.08 L452.20,130.44 L452.80,129.62 L453.40,132.01 L454.00,132.02 L454.60,129.79 L455.20,129.24 L455.80,132.01 L456.40,130.14 L457.00,131.81 L457.60,129.76 L458.20,130.09 L458.80,131.47 L459.40,131.55 L460.00,129.70 L460.60,130.53 L461.20,129.70 L461.80,130.96 L462.40,131.15 L463.00,129.01 L463.60,130.01 L464.20,130.62 L464.80,130.47 L465.40,129.85 L466.00,129.89 L466.60,129.19 L467.20,130.90 L467.80,129.49 L468.40,130.03 L469.00,129.40 L469.60,129.56 L470.20,129.46 L470.80,129.28 L471.40,129.04 L472.00,130.12 L472.60,130.52 L473.20,129.89 L473.80,129.57 L474.40,130.87 L475.00,130.87 L475.2,132.9 Z" fill="#000"/>
<path d="M46.0,180.3 L46.00,179.99 L46.50,179.93 L47.00,179.90 L47.50,179.83 L48.00,179.93 L48.50,179.84 L49.00,180.29 L49.50,180.07 L50.00,179.83 L50.50,179.98 L51.00,179.85 L51.50,180.24 L52.00,180.07 L52.50,180.18 L53.00,180.03 L53.50,180.01 L54.00,180.29 L54.50,180.19 L55.00,180.16 L55.50,179.84 L56.00,179.92 L56.50,180.22 L57.00,179.90 L57.50,180.23 L58.00,179.99 L58.50,180.24 L59.00,180.30 L59.50,179.86 L60.00,180.20 L60.50,180.19 L61.00,179.81 L61.50,179.86 L62.00,180.16 L62.50,179.82 L63.00,180.03 L63.50,179.96 L64.00,180.20 L64.50,179.83 L65.00,179.95 L65.50,179.82 L66.00,179.85 L66.50,180.15 L67.00,180.12 L67.50,180.22 L68.00,180.23 L68.50,180.27 L69.00,180.15 L69.50,180.00 L70.00,180.30 L70.50,179.96 L71.00,180.13 L71.50,180.15 L72.00,179.89 L72.50,180.06 L73.00,180.14 L73.50,180.06 L74.00,179.95 L74.50,180.27 L75.00,179.81 L75.50,180.29 L76.00,179.93 L76.50,179.88 L77.00,180.29 L77.50,179.91 L78.00,180.12 L78.50,180.01 L79.00,180.30 L79.50,180.28 L80.00,180.21 L80.50,179.82 L81.00,180.20 L81.50,179.92 L82.00,179.84 L82.50,179.83 L83.00,180.13 L83.50,180.12 L84.00,180.04 L84.50,179.91 L85.00,180.25 L85.50,179.93 L86.00,179.90 L86.50,179.87 L87.00,180.28 L87.50,179.83 L88.00,180.25 L88.50,180.13 L89.00,179.99 L89.50,179.84 L90.00,180.13 L90.50,179.84 L91.00,180.03 L91.50,180.14 L92.00,180.14 L92.50,180.21 L93.00,180.26 L93.50,180.23 L94.00,179.96 L94.50,179.80 L95.00,180.22 L95.50,180.28 L96.00,179.81 L96.50,180.03 L97.00,180.10 L97.50,180.18 L98.00,180.00 L98.50,179.89 L99.00,180.07 L99.50,180.09 L100.00,180.27 L100.50,179.84 L101.00,180.28 L101.50,180.05 L102.00,179.88 L102.50,180.23 L103.00,179.93 L103.50,179.83 L104.00,179.98 L104.50,179.91 L105.00,180.25 L105.50,180.08 L106.00,180.23 L106.50,179.88 L107.00,180.15 L107.50,180.07 L108.00,179.80 L108.50,179.87 L109.00,179.81 L109.50,180.07 L110.00,180.06 L110.50,179.94 L111.00,180.06 L111.50,180.15 L112.00,180.10 L112.50,180.23 L113.00,180.11 L113.50,179.81 L114.00,179.82 L114.50,179.99 L115.00,180.05 L115.50,180.13 L116.00,180.26 L116.50,180.16 L117.00,179.91 L117.50,179.87 L118.00,180.12 L118.50,179.91 L119.00,179.91 L119.50,179.95 L120.00,179.97 L120.50,179.92 L120.70,180.12 L121.00,176.95 L121.50,172.16 L121.60,171.06 L122.00,174.92 L122.50,179.95 L123.00,180.15 L123.50,179.83 L124.00,179.98 L124.50,180.01 L125.00,180.29 L125.50,180.03 L126.00,180.17 L126.50,179.96 L127.00,180.07 L127.50,179.89 L128.00,179.98 L128.50,179.90 L129.00,180.13 L129.50,179.98 L130.00,179.93 L130.50,179.89 L131.00,180.12 L131.50,179.88 L132.00,179.87 L132.50,179.96 L133.00,179.81 L133.50,179.82 L134.00,180.04 L134.50,180.04 L135.00,180.22 L135.50,179.88 L136.00,179.83 L136.50,180.06 L137.00,179.95 L137.50,179.94 L138.00,179.93 L138.50,180.21 L139.00,179.91 L139.50,180.01 L140.00,179.97 L140.50,180.09 L141.00,179.99 L141.40,179.91 L141.50,177.58 L142.00,165.54 L142.40,156.29 L142.50,158.62 L143.00,170.48 L143.40,179.97 L143.50,180.19 L144.00,179.96 L144.50,179.98 L145.00,180.28 L145.50,180.06 L146.00,180.19 L146.50,180.27 L147.00,180.23 L147.50,180.14 L148.00,180.21 L148.50,180.20 L149.00,180.28 L149.50,180.07 L150.00,180.11 L150.50,179.99 L151.00,180.00 L151.50,180.18 L152.00,179.85 L152.50,180.30 L153.00,180.10 L153.50,180.16 L154.00,180.09 L154.50,180.24 L155.00,179.88 L155.50,180.11 L156.00,180.28 L156.50,179.99 L157.00,180.25 L157.50,180.03 L158.00,180.13 L158.50,180.01 L159.00,179.82 L159.50,179.89 L159.90,180.09 L160.00,179.32 L160.50,176.55 L160.60,176.12 L161.00,178.51 L161.30,180.00 L161.50,180.02 L162.00,179.82 L162.50,179.82 L163.00,180.00 L163.50,180.12 L164.00,179.85 L164.50,180.30 L165.00,180.25 L165.50,180.02 L166.00,179.99 L166.50,180.23 L167.00,179.99 L167.50,179.85 L168.00,180.11 L168.50,180.08 L169.00,180.19 L169.50,180.15 L170.00,179.81 L170.50,180.11 L171.00,179.82 L171.50,179.84 L172.00,180.00 L172.50,180.17 L173.00,179.81 L173.50,180.05 L174.00,180.09 L174.50,180.14 L175.00,179.81 L175.50,180.05 L175.60,180.16 L176.00,177.46 L176.50,174.39 L176.60,173.49 L177.00,176.18 L177.30,178.20 L177.50,179.26 L177.60,179.26 L178.00,178.84 L178.50,177.53 L179.00,178.70 L179.50,179.42 L179.70,179.91 L180.00,180.18 L180.50,180.17 L181.00,180.22 L181.50,179.81 L182.00,180.15 L182.50,180.00 L183.00,180.06 L183.50,179.98 L184.00,180.00 L184.50,179.93 L185.00,180.24 L185.50,179.92 L186.00,180.15 L186.50,180.03 L187.00,180.13 L187.50,180.15 L188.00,180.04 L188.50,180.07 L189.00,180.12 L189.50,179.93 L190.00,180.00 L190.50,180.28 L191.00,180.17 L191.50,180.07 L192.00,179.84 L192.50,179.86 L193.00,180.03 L193.50,180.29 L194.00,179.91 L194.50,180.09 L195.00,180.01 L195.50,179.95 L196.00,179.98 L196.50,180.06 L197.00,179.84 L197.50,180.11 L198.00,180.10 L198.50,179.87 L199.00,180.20 L199.50,180.15 L199.80,179.88 L200.00,179.77 L200.50,178.13 L200.60,177.95 L201.00,179.08 L201.40,180.16 L201.50,179.91 L202.00,179.84 L202.50,180.23 L203.00,180.06 L203.50,180.03 L204.00,180.05 L204.50,180.13 L205.00,180.22 L205.50,180.01 L205.80,179.89 L206.00,178.43 L206.50,173.77 L207.00,168.89 L207.50,173.49 L208.00,178.13 L208.20,180.29 L208.50,179.94 L209.00,179.81 L209.50,179.80 L210.00,179.95 L210.50,180.28 L211.00,179.88 L211.50,180.19 L212.00,179.98 L212.50,179.82 L213.00,179.94 L213.50,180.23 L214.00,180.15 L214.50,179.84 L215.00,180.23 L215.50,179.99 L216.00,180.09 L216.50,180.22 L217.00,179.99 L217.50,180.28 L218.00,180.25 L218.50,180.11 L219.00,180.26 L219.50,180.27 L220.00,180.01 L220.50,179.93 L221.00,179.86 L221.50,180.23 L222.00,180.08 L222.50,180.14 L223.00,180.00 L223.50,180.06 L224.00,179.83 L224.50,180.11 L225.00,180.27 L225.50,179.95 L226.00,180.22 L226.50,179.98 L227.00,180.05 L227.50,179.84 L228.00,180.02 L228.50,179.99 L229.00,180.17 L229.50,180.02 L230.00,180.17 L230.50,179.92 L231.00,180.04 L231.50,180.23 L232.00,180.18 L232.50,180.11 L233.00,179.93 L233.50,180.21 L234.00,179.94 L234.50,179.97 L235.00,180.26 L235.50,179.97 L236.00,180.25 L236.50,180.24 L237.00,180.00 L237.50,180.18 L238.00,179.86 L238.50,180.06 L239.00,180.14 L239.50,179.90 L240.00,180.29 L240.50,179.94 L241.00,180.27 L241.50,180.22 L242.00,179.82 L242.50,179.96 L243.00,180.19 L243.50,180.24 L244.00,179.81 L244.30,179.97 L244.50,179.47 L245.00,178.77 L245.50,177.49 L246.00,178.66 L246.50,179.77 L246.70,180.13 L247.00,179.99 L247.30,180.13 L247.50,179.61 L248.00,178.48 L248.50,176.88 L249.00,178.23 L249.50,179.40 L249.70,180.08 L250.00,179.87 L250.50,179.04 L251.00,178.00 L251.50,179.01 L252.00,179.93 L252.50,180.10 L253.00,180.25 L253.50,180.28 L254.00,180.20 L254.50,180.28 L255.00,179.86 L255.20,180.06 L255.50,179.17 L256.00,178.30 L256.50,179.31 L256.80,179.86 L257.00,179.99 L257.50,180.09 L258.00,180.07 L258.50,180.25 L259.00,180.22 L259.50,180.22 L260.00,180.11 L260.50,180.11 L261.00,179.86 L261.50,180.22 L262.00,180.17 L262.50,180.16 L263.00,180.22 L263.50,180.16 L264.00,180.18 L264.50,180.06 L265.00,180.28 L265.50,179.84 L266.00,180.12 L266.50,179.83 L267.00,179.96 L267.50,179.96 L268.00,180.06 L268.50,179.83 L269.00,180.24 L269.50,179.97 L270.00,180.15 L270.50,179.96 L271.00,179.94 L271.50,180.22 L272.00,180.20 L272.50,180.29 L273.00,180.18 L273.50,180.26 L274.00,180.10 L274.50,179.81 L275.00,180.12 L275.50,180.14 L276.00,180.07 L276.50,180.16 L277.00,179.93 L277.50,179.94 L278.00,180.22 L278.50,180.18 L279.00,179.96 L279.50,179.83 L280.00,179.98 L280.50,180.08 L281.00,179.81 L281.50,180.30 L282.00,180.27 L282.50,179.91 L283.00,180.09 L283.50,180.28 L284.00,180.03 L284.50,179.81 L285.00,180.04 L285.50,180.12 L286.00,180.25 L286.50,180.26 L287.00,179.85 L287.50,180.05 L288.00,179.83 L288.50,180.27 L289.00,180.18 L289.50,180.27 L290.00,180.10 L290.50,180.27 L291.00,180.17 L291.50,180.10 L292.00,180.15 L292.50,180.27 L293.00,180.28 L293.50,179.81 L294.00,180.21 L294.50,180.05 L295.00,180.10 L295.50,180.03 L296.00,180.26 L296.50,180.14 L297.00,180.25 L297.50,180.03 L298.00,179.84 L298.50,180.00 L299.00,179.87 L299.50,180.19 L300.00,180.29 L300.50,180.03 L301.00,180.06 L301.50,180.01 L302.00,180.11 L302.50,179.99 L303.00,179.94 L303.50,179.84 L304.00,180.15 L304.50,180.08 L305.00,179.89 L305.50,180.19 L306.00,180.24 L306.50,180.14 L307.00,180.26 L307.50,179.91 L308.00,179.89 L308.50,180.14 L309.00,180.24 L309.50,180.26 L310.00,180.18 L310.50,180.26 L311.00,180.09 L311.50,180.01 L312.00,180.18 L312.50,180.27 L313.00,179.95 L313.50,180.28 L314.00,180.20 L314.50,180.16 L315.00,180.11 L315.50,180.25 L316.00,180.09 L316.50,180.14 L317.00,179.92 L317.50,180.02 L318.00,179.85 L318.50,179.97 L319.00,179.92 L319.50,180.01 L320.00,180.08 L320.50,179.89 L321.00,179.97 L321.50,179.82 L322.00,179.94 L322.50,179.95 L323.00,180.17 L323.50,179.89 L324.00,180.11 L324.50,180.23 L325.00,180.27 L325.50,180.22 L326.00,180.17 L326.10,179.96 L326.50,177.05 L327.00,173.27 L327.50,176.81 L327.90,180.02 L328.00,180.29 L328.50,180.27 L329.00,180.23 L329.50,180.12 L330.00,179.87 L330.50,179.83 L331.00,179.99 L331.50,180.18 L332.00,180.09 L332.50,180.12 L333.00,180.13 L333.50,180.29 L334.00,180.01 L334.50,179.89 L335.00,179.94 L335.50,180.25 L336.00,180.03 L336.50,180.21 L337.00,179.95 L337.50,180.08 L338.00,179.83 L338.50,179.90 L339.00,180.24 L339.50,180.14 L340.00,179.84 L340.50,180.07 L341.00,180.08 L341.50,180.08 L342.00,179.92 L342.50,179.83 L343.00,180.03 L343.50,179.82 L344.00,180.00 L344.50,180.25 L345.00,179.89 L345.50,180.09 L346.00,180.27 L346.50,179.81 L347.00,180.28 L347.50,180.01 L348.00,180.06 L348.50,179.86 L349.00,180.10 L349.50,180.19 L350.00,180.16 L350.50,180.20 L351.00,180.02 L351.50,180.12 L352.00,179.92 L352.50,180.18 L353.00,180.12 L353.50,180.18 L354.00,179.81 L354.50,179.88 L355.00,179.88 L355.50,179.99 L356.00,180.10 L356.50,180.23 L357.00,179.88 L357.50,180.05 L358.00,180.28 L358.50,178.97 L359.00,177.75 L359.50,178.69 L360.00,179.85 L360.50,180.20 L361.00,179.90 L361.50,180.14 L362.00,179.96 L362.50,179.87 L363.00,179.99 L363.50,179.90 L364.00,180.11 L364.50,180.29 L365.00,179.04 L365.50,178.01 L366.00,179.21 L366.50,180.11 L367.00,180.14 L367.50,180.29 L368.00,180.14 L368.50,180.11 L369.00,180.06 L369.50,179.95 L370.00,180.10 L370.50,179.81 L371.00,179.89 L371.50,179.84 L372.00,179.95 L372.50,179.96 L373.00,180.03 L373.50,179.90 L373.90,180.12 L374.00,177.46 L374.50,164.69 L375.00,152.04 L375.50,164.89 L376.00,175.26 L376.10,175.51 L376.50,176.37 L377.00,177.51 L377.50,178.67 L378.00,179.94 L378.50,180.15 L379.00,179.84 L379.50,180.16 L380.00,179.94 L380.50,180.26 L381.00,179.92 L381.50,179.97 L382.00,179.82 L382.50,179.85 L383.00,179.96 L383.50,179.88 L384.00,179.93 L384.50,179.99 L385.00,180.20 L385.50,180.04 L386.00,179.85 L386.50,180.18 L387.00,179.81 L387.50,180.03 L388.00,180.10 L388.50,180.30 L389.00,180.10 L389.50,180.21 L390.00,179.97 L390.50,179.85 L391.00,179.84 L391.50,179.99 L392.00,180.11 L392.50,180.25 L393.00,179.96 L393.50,180.02 L394.00,179.94 L394.50,180.11 L395.00,179.86 L395.50,180.19 L396.00,180.15 L396.50,180.17 L397.00,179.99 L397.50,179.85 L398.00,180.22 L398.50,179.98 L399.00,179.92 L399.50,180.19 L400.00,180.27 L400.50,180.02 L401.00,179.88 L401.50,179.86 L402.00,179.94 L402.50,180.09 L403.00,180.09 L403.50,180.04 L404.00,179.85 L404.50,180.15 L405.00,180.16 L405.50,180.00 L406.00,179.82 L406.50,180.21 L407.00,180.28 L407.50,180.24 L408.00,180.02 L408.50,180.00 L409.00,180.21 L409.50,180.20 L410.00,180.00 L410.50,179.98 L411.00,179.95 L411.50,179.94 L412.00,180.27 L412.50,180.06 L413.00,179.88 L413.50,179.82 L414.00,180.14 L414.50,179.87 L415.00,179.98 L415.50,179.84 L416.00,180.19 L416.50,179.95 L417.00,179.88 L417.50,180.06 L417.70,180.25 L418.00,178.54 L418.50,175.78 L418.60,175.25 L419.00,177.45 L419.50,179.99 L420.00,180.25 L420.50,179.92 L421.00,179.93 L421.50,179.89 L422.00,179.90 L422.50,179.94 L423.00,179.84 L423.50,179.82 L424.00,179.99 L424.50,179.82 L425.00,180.25 L425.50,180.25 L426.00,180.27 L426.50,180.20 L427.00,180.11 L427.50,180.07 L428.00,179.96 L428.50,179.93 L429.00,180.26 L429.50,180.10 L430.00,180.03 L430.50,180.11 L431.00,180.24 L431.50,180.00 L432.00,180.11 L432.50,179.96 L433.00,180.05 L433.50,179.82 L434.00,179.83 L434.50,180.26 L435.00,179.92 L435.50,179.94 L436.00,180.15 L436.50,180.24 L437.00,180.06 L437.50,180.12 L438.00,179.93 L438.50,179.84 L439.00,180.11 L439.50,180.15 L440.00,180.05 L440.50,179.95 L441.00,179.91 L441.50,180.01 L442.00,180.15 L442.50,177.21 L442.60,176.38 L443.00,178.87 L443.20,180.27 L443.50,180.09 L444.00,180.18 L444.50,179.97 L445.00,180.26 L445.50,180.16 L446.00,180.25 L446.50,180.06 L447.00,179.81 L447.50,180.03 L448.00,180.11 L448.50,179.83 L449.00,180.25 L449.50,180.12 L450.00,179.89 L450.50,180.30 L451.00,179.92 L451.50,179.62 L452.00,179.29 L452.50,179.67 L453.00,180.07 L453.50,180.11 L454.00,180.04 L454.50,180.27 L455.00,180.19 L455.50,179.81 L456.00,180.08 L456.50,180.06 L457.00,180.26 L457.50,180.16 L458.00,179.82 L458.50,179.96 L459.00,180.05 L459.50,180.27 L460.00,180.10 L460.50,179.91 L461.00,180.08 L461.50,179.50 L462.00,178.85 L462.50,179.48 L463.00,179.98 L463.50,180.28 L464.00,180.29 L464.50,179.92 L465.00,180.09 L465.50,179.86 L466.00,179.89 L466.50,179.84 L467.00,180.11 L467.50,179.80 L468.00,179.92 L468.50,179.85 L469.00,180.23 L469.50,179.91 L470.00,180.09 L470.30,179.81 L470.50,178.80 L471.00,176.69 L471.50,179.09 L471.70,180.16 L472.00,180.07 L472.50,180.16 L473.00,179.97 L473.50,180.24 L474.00,180.22 L474.50,180.07 L475.00,180.26 L475.2,180.3 Z" fill="#000"/>
<line x1="46.0" y1="36.4" x2="475.2" y2="36.4" stroke="#111" stroke-width="1.3"/>
<line x1="46.0" y1="82.6" x2="475.2" y2="82.6" stroke="#111" stroke-width="1.3"/>
<line x1="46.0" y1="132.9" x2="475.2" y2="132.9" stroke="#111" stroke-width="1.3"/>
<line x1="46.0" y1="180.3" x2="475.2" y2="180.3" stroke="#111" stroke-width="1.3"/>
<line x1="46.0" y1="35.8" x2="46.0" y2="180.9" stroke="#111" stroke-width="1.4"/>
<line x1="475.2" y1="35.8" x2="475.2" y2="180.9" stroke="#111" stroke-width="1.4"/>
<text x="42.6" y="39.6" font-size="8.2" text-anchor="end" fill="#1a1a1a">21</text>
<text x="42.6" y="85.6" font-size="8.2" text-anchor="end" fill="#1a1a1a" textLength="12.6" lengthAdjust="spacingAndGlyphs">184</text>
<text x="42.6" y="136.4" font-size="8.2" text-anchor="end" fill="#1a1a1a">26</text>
<text x="22.6" y="59.6" font-size="8.6" text-anchor="middle" fill="#1a1a1a" transform="rotate(-90 22.6 59.6)">H3K27ac</text>
<text x="22.6" y="107.6" font-size="8.6" text-anchor="middle" fill="#1a1a1a" transform="rotate(-90 22.6 107.6)" textLength="19.6" lengthAdjust="spacingAndGlyphs">TAL1</text>
<text x="22.6" y="156.8" font-size="8.6" text-anchor="middle" fill="#1a1a1a" transform="rotate(-90 22.6 156.8)" textLength="27.4" lengthAdjust="spacingAndGlyphs">RUNX1</text>
<text x="312.6" y="190.2" font-size="9.2" text-anchor="start" font-style="italic" fill="#1a1a1a" textLength="22.0" lengthAdjust="spacingAndGlyphs">MYB</text>
<line x1="337.4" y1="187.6" x2="431.0" y2="187.6" stroke="#111" stroke-width="1.3"/>
<rect x="337.4" y="186.3" width="1.6" height="2.6" fill="#111"/>
<rect x="348.2" y="186.3" width="1.6" height="2.6" fill="#111"/>
<rect x="352.7" y="186.3" width="1.6" height="2.6" fill="#111"/>
<rect x="358.4" y="186.3" width="1.6" height="2.6" fill="#111"/>
<rect x="364.2" y="186.3" width="1.6" height="2.6" fill="#111"/>
<rect x="368.7" y="186.3" width="1.6" height="2.6" fill="#111"/>
<rect x="373.0" y="186.3" width="1.6" height="2.6" fill="#111"/>
<rect x="376.2" y="186.3" width="1.6" height="2.6" fill="#111"/>
<rect x="380.7" y="186.3" width="1.6" height="2.6" fill="#111"/>
<rect x="384.2" y="186.3" width="1.6" height="2.6" fill="#111"/>
<rect x="387.7" y="186.3" width="1.6" height="2.6" fill="#111"/>
<rect x="392.2" y="186.3" width="1.6" height="2.6" fill="#111"/>
<path d="M433.8,187.6 L429.2,185.9 L429.2,189.3 Z" fill="#111"/>
<text x="7.7" y="218.4" font-size="11.8" text-anchor="start" font-weight="bold" fill="#000" style="stroke-width:0">B</text>
<text x="24.0" y="240.3" font-size="10.0" text-anchor="start" fill="#1a1a1a" textLength="27.0" lengthAdjust="spacingAndGlyphs" style="stroke-width:0.12px">Chr10</text>
<line x1="24.2" y1="245.8" x2="465.6" y2="245.8" stroke="#111" stroke-width="1.4"/>
<line x1="122.0" y1="241.0" x2="122.0" y2="251.0" stroke="#111" stroke-width="1.3"/>
<line x1="134.3" y1="238.6" x2="134.3" y2="245.8" stroke="#111" stroke-width="1.1"/>
<text x="138.4" y="242.2" font-size="10.0" text-anchor="start" fill="#1a1a1a" textLength="50.6" lengthAdjust="spacingAndGlyphs" style="stroke-width:0.12px">21,150,000</text>
<text x="106.6" y="226.0" font-size="10.0" text-anchor="start" fill="#1a1a1a" textLength="30.8" lengthAdjust="spacingAndGlyphs" style="stroke-width:0.12px">+15 kb</text>
<line x1="432.8" y1="238.6" x2="432.8" y2="245.8" stroke="#111" stroke-width="1.1"/>
<text x="377.8" y="242.8" font-size="10.0" text-anchor="start" fill="#1a1a1a" textLength="50.4" lengthAdjust="spacingAndGlyphs" style="stroke-width:0.12px">21,250,000</text>
<line x1="449.6" y1="241.0" x2="449.6" y2="251.0" stroke="#111" stroke-width="1.3"/>
<text x="436.0" y="226.2" font-size="10.0" text-anchor="start" fill="#1a1a1a" textLength="28.0" lengthAdjust="spacingAndGlyphs" style="stroke-width:0.12px">-92 kb</text>
<line x1="47.0" y1="252.6" x2="47.0" y2="260.4" stroke="#d6d6ec" stroke-width="1.0"/>
<line x1="51.4" y1="252.6" x2="51.4" y2="260.4" stroke="#d6d6ec" stroke-width="1.0"/>
<line x1="55.8" y1="252.6" x2="55.8" y2="260.4" stroke="#d6d6ec" stroke-width="1.0"/>
<line x1="60.2" y1="252.6" x2="60.2" y2="260.4" stroke="#d6d6ec" stroke-width="1.0"/>
<line x1="64.6" y1="252.6" x2="64.6" y2="260.4" stroke="#d6d6ec" stroke-width="1.0"/>
<line x1="69.0" y1="252.6" x2="69.0" y2="260.4" stroke="#d6d6ec" stroke-width="1.0"/>
<line x1="73.4" y1="252.6" x2="73.4" y2="260.4" stroke="#d6d6ec" stroke-width="1.0"/>
<line x1="77.80000000000001" y1="252.6" x2="77.80000000000001" y2="260.4" stroke="#d6d6ec" stroke-width="1.0"/>
<line x1="82.2" y1="252.6" x2="82.2" y2="260.4" stroke="#d6d6ec" stroke-width="1.0"/>
<line x1="86.6" y1="252.6" x2="86.6" y2="260.4" stroke="#d6d6ec" stroke-width="1.0"/>
<line x1="91.0" y1="252.6" x2="91.0" y2="260.4" stroke="#d6d6ec" stroke-width="1.0"/>
<line x1="95.4" y1="252.6" x2="95.4" y2="260.4" stroke="#d6d6ec" stroke-width="1.0"/>
<line x1="99.80000000000001" y1="252.6" x2="99.80000000000001" y2="260.4" stroke="#d6d6ec" stroke-width="1.0"/>
<line x1="104.2" y1="252.6" x2="104.2" y2="260.4" stroke="#d6d6ec" stroke-width="1.0"/>
<line x1="108.60000000000001" y1="252.6" x2="108.60000000000001" y2="260.4" stroke="#d6d6ec" stroke-width="1.0"/>
<line x1="113.0" y1="252.6" x2="113.0" y2="260.4" stroke="#d6d6ec" stroke-width="1.0"/>
<line x1="117.4" y1="252.6" x2="117.4" y2="260.4" stroke="#d6d6ec" stroke-width="1.0"/>
<line x1="121.80000000000001" y1="252.6" x2="121.80000000000001" y2="260.4" stroke="#d6d6ec" stroke-width="1.0"/>
<line x1="126.2" y1="252.6" x2="126.2" y2="260.4" stroke="#d6d6ec" stroke-width="1.0"/>
<line x1="130.60000000000002" y1="252.6" x2="130.60000000000002" y2="260.4" stroke="#d6d6ec" stroke-width="1.0"/>
<line x1="135.0" y1="252.6" x2="135.0" y2="260.4" stroke="#d6d6ec" stroke-width="1.0"/>
<line x1="139.4" y1="252.6" x2="139.4" y2="260.4" stroke="#d6d6ec" stroke-width="1.0"/>
<line x1="143.8" y1="252.6" x2="143.8" y2="260.4" stroke="#d6d6ec" stroke-width="1.0"/>
<line x1="148.2" y1="252.6" x2="148.2" y2="260.4" stroke="#d6d6ec" stroke-width="1.0"/>
<line x1="152.60000000000002" y1="252.6" x2="152.60000000000002" y2="260.4" stroke="#d6d6ec" stroke-width="1.0"/>
<line x1="157.0" y1="252.6" x2="157.0" y2="260.4" stroke="#d6d6ec" stroke-width="1.0"/>
<line x1="161.4" y1="252.6" x2="161.4" y2="260.4" stroke="#d6d6ec" stroke-width="1.0"/>
<line x1="165.8" y1="252.6" x2="165.8" y2="260.4" stroke="#d6d6ec" stroke-width="1.0"/>
<line x1="170.20000000000002" y1="252.6" x2="170.20000000000002" y2="260.4" stroke="#d6d6ec" stroke-width="1.0"/>
<line x1="174.60000000000002" y1="252.6" x2="174.60000000000002" y2="260.4" stroke="#d6d6ec" stroke-width="1.0"/>
<line x1="179.0" y1="252.6" x2="179.0" y2="260.4" stroke="#d6d6ec" stroke-width="1.0"/>
<line x1="183.4" y1="252.6" x2="183.4" y2="260.4" stroke="#d6d6ec" stroke-width="1.0"/>
<line x1="43" y1="256.6" x2="185.3" y2="256.6" stroke="#3c3c86" stroke-width="1.1"/>
<rect x="37.7" y="254.9" width="5.6" height="3.4" fill="#26266a"/>
<line x1="96.5" y1="253.3" x2="96.5" y2="259.8" stroke="#6464a8" stroke-width="1.1"/>
<line x1="102.2" y1="253.3" x2="102.2" y2="259.8" stroke="#6464a8" stroke-width="1.1"/>
<line x1="107.3" y1="253.3" x2="107.3" y2="259.8" stroke="#6464a8" stroke-width="1.1"/>
<line x1="110.4" y1="253.3" x2="110.4" y2="259.8" stroke="#6464a8" stroke-width="1.1"/>
<line x1="113.4" y1="253.3" x2="113.4" y2="259.8" stroke="#6464a8" stroke-width="1.1"/>
<line x1="121" y1="253.3" x2="121" y2="259.8" stroke="#6464a8" stroke-width="1.1"/>
<line x1="125.7" y1="253.3" x2="125.7" y2="259.8" stroke="#6464a8" stroke-width="1.1"/>
<line x1="134.6" y1="253.3" x2="134.6" y2="259.8" stroke="#6464a8" stroke-width="1.1"/>
<line x1="142.6" y1="253.3" x2="142.6" y2="259.8" stroke="#6464a8" stroke-width="1.1"/>
<line x1="151.2" y1="253.3" x2="151.2" y2="259.8" stroke="#6464a8" stroke-width="1.1"/>
<line x1="153" y1="253.3" x2="153" y2="259.8" stroke="#6464a8" stroke-width="1.1"/>
<line x1="160" y1="253.3" x2="160" y2="259.8" stroke="#6464a8" stroke-width="1.1"/>
<line x1="167.7" y1="253.3" x2="167.7" y2="259.8" stroke="#6464a8" stroke-width="1.1"/>
<line x1="175.4" y1="253.3" x2="175.4" y2="259.8" stroke="#6464a8" stroke-width="1.1"/>
<line x1="185.3" y1="253.6" x2="185.3" y2="259.6" stroke="#2a2a6a" stroke-width="1.2"/>
<text x="190.4" y="259.8" font-size="10.0" text-anchor="start" font-style="italic" fill="#1a1a1a" textLength="18.6" lengthAdjust="spacingAndGlyphs" style="stroke-width:0.12px">Myb</text>
<path d="M185.0,264.0 L185.0,272.3 L180.5,272.3" fill="none" stroke="#1a1a1a" stroke-width="1.3"/>
<path d="M175.0,272.3 L182.7,269.0 L180.6,272.3 L182.7,275.6 Z" fill="#111"/>
<line x1="120.8" y1="262.0" x2="38.5" y2="294.6" stroke="#1a1a1a" stroke-width="1.5" stroke-dasharray="2.8,2.0"/>
<line x1="122.5" y1="262.0" x2="225.0" y2="292.4" stroke="#1a1a1a" stroke-width="1.5" stroke-dasharray="2.8,2.0"/>
<line x1="440.0" y1="253.8" x2="251.7" y2="289.2" stroke="#1a1a1a" stroke-width="1.5" stroke-dasharray="2.8,2.0"/>
<line x1="451.2" y1="254.4" x2="468.8" y2="287.1" stroke="#1a1a1a" stroke-width="1.5" stroke-dasharray="2.8,2.0"/>
<line x1="38.1" y1="297.0" x2="81.0" y2="297.0" stroke="#333" stroke-width="1.5"/>
<text x="84.3" y="300.4" font-size="10.0" text-anchor="start" fill="#1a1a1a" textLength="31.6" lengthAdjust="spacingAndGlyphs" style="stroke-width:0.12px">E-BOX</text>
<line x1="118.3" y1="297.0" x2="143.3" y2="297.0" stroke="#333" stroke-width="1.5"/>
<text x="147.3" y="300.4" font-size="10.0" text-anchor="start" fill="#1a1a1a" textLength="28.4" lengthAdjust="spacingAndGlyphs" style="stroke-width:0.12px">RUNX</text>
<line x1="178.5" y1="297.0" x2="224.6" y2="297.0" stroke="#333" stroke-width="1.5"/>
<text x="31.8" y="308.4" font-size="10.0" text-anchor="start" fill="#1a1a1a" textLength="50.0" lengthAdjust="spacingAndGlyphs" style="stroke-width:0.12px">21,146,143</text>
<text x="180.5" y="308.4" font-size="10.0" text-anchor="start" fill="#1a1a1a" textLength="49.8" lengthAdjust="spacingAndGlyphs" style="stroke-width:0.12px">21,146,620</text>
<line x1="253.7" y1="297.0" x2="312.7" y2="297.0" stroke="#333" stroke-width="1.5"/>
<text x="318.4" y="300.4" font-size="10.0" text-anchor="start" fill="#1a1a1a" textLength="31.2" lengthAdjust="spacingAndGlyphs" style="stroke-width:0.12px">E-BOX</text>
<line x1="355.6" y1="297.0" x2="380.2" y2="297.0" stroke="#333" stroke-width="1.5"/>
<text x="383.7" y="300.4" font-size="10.0" text-anchor="start" fill="#1a1a1a" textLength="28.2" lengthAdjust="spacingAndGlyphs" style="stroke-width:0.12px">RUNX</text>
<line x1="414.6" y1="297.0" x2="470.0" y2="297.0" stroke="#333" stroke-width="1.5"/>
<text x="253.4" y="308.6" font-size="10.0" text-anchor="start" fill="#1a1a1a" textLength="50.4" lengthAdjust="spacingAndGlyphs" style="stroke-width:0.12px">21,252,200</text>
<text x="419.7" y="308.6" font-size="10.0" text-anchor="start" fill="#1a1a1a" textLength="50.0" lengthAdjust="spacingAndGlyphs" style="stroke-width:0.12px">21,252,500</text>
<text x="7.6" y="337.6" font-size="12.2" text-anchor="start" font-weight="bold" fill="#000" style="stroke-width:0">C</text>
<rect x="54.6" y="421.2" width="13.499999999999993" height="13.199999999999989" fill="#ad0a2e"/>
<line x1="61.349999999999994" y1="416.6" x2="61.349999999999994" y2="421.2" stroke="#111" stroke-width="1.1"/>
<line x1="58.14999999999999" y1="416.6" x2="64.55" y2="416.6" stroke="#111" stroke-width="1.2"/>
<rect x="75.0" y="370.5" width="13.099999999999994" height="63.89999999999998" fill="#2f4c82"/>
<line x1="81.55" y1="360.4" x2="81.55" y2="370.5" stroke="#111" stroke-width="1.1"/>
<line x1="78.35" y1="360.4" x2="84.75" y2="360.4" stroke="#111" stroke-width="1.2"/>
<line x1="51.7" y1="352.2" x2="51.7" y2="434.4" stroke="#111" stroke-width="1.3"/>
<line x1="48.300000000000004" y1="434.4" x2="91.2" y2="434.4" stroke="#111" stroke-width="1.3"/>
<line x1="48.300000000000004" y1="355.2" x2="51.7" y2="355.2" stroke="#111" stroke-width="1.1"/>
<text x="45.7" y="358.0" font-size="8.3" text-anchor="end" fill="#1a1a1a">0.02</text>
<line x1="48.300000000000004" y1="394.9" x2="51.7" y2="394.9" stroke="#111" stroke-width="1.1"/>
<text x="45.7" y="397.7" font-size="8.3" text-anchor="end" fill="#1a1a1a">0.01</text>
<line x1="48.300000000000004" y1="434.4" x2="51.7" y2="434.4" stroke="#111" stroke-width="1.1"/>
<text x="45.7" y="437.2" font-size="8.3" text-anchor="end" fill="#1a1a1a">0.00</text>
<line x1="61.3" y1="434.4" x2="61.3" y2="437.4" stroke="#111" stroke-width="1.1"/>
<line x1="81.4" y1="434.4" x2="81.4" y2="437.4" stroke="#111" stroke-width="1.1"/>
<text x="61.5" y="447.59999999999997" font-size="8.3" text-anchor="middle" fill="#1a1a1a">IgG</text>
<text x="73.6" y="447.59999999999997" font-size="8.3" text-anchor="start" fill="#1a1a1a">RUNX1</text>
<text x="21.85" y="393.1" font-size="9.0" text-anchor="middle" fill="#1a1a1a" transform="rotate(-90 21.85 393.1)">Percent input</text>
<path d="M61.4,412.3 L61.4,354.0 L81.5,354.0 L81.5,357.8" fill="none" stroke="#111" stroke-width="1.1"/>
<text x="71.4" y="352.2" font-size="8.5" text-anchor="middle" font-weight="bold" fill="#111">**</text>
<rect x="153.8" y="408.6" width="12.099999999999994" height="25.69999999999999" fill="#ad0a2e"/>
<line x1="159.85000000000002" y1="403.4" x2="159.85000000000002" y2="408.6" stroke="#111" stroke-width="1.1"/>
<line x1="156.65000000000003" y1="403.4" x2="163.05" y2="403.4" stroke="#111" stroke-width="1.2"/>
<rect x="172.1" y="377.0" width="12.5" height="57.30000000000001" fill="#68a840"/>
<line x1="178.35" y1="368.0" x2="178.35" y2="377.0" stroke="#111" stroke-width="1.1"/>
<line x1="175.15" y1="368.0" x2="181.54999999999998" y2="368.0" stroke="#111" stroke-width="1.2"/>
<rect x="203.0" y="416.0" width="12.099999999999994" height="18.30000000000001" fill="#ad0a2e"/>
<line x1="209.05" y1="409.8" x2="209.05" y2="416.0" stroke="#111" stroke-width="1.1"/>
<line x1="205.85000000000002" y1="409.8" x2="212.25" y2="409.8" stroke="#111" stroke-width="1.2"/>
<rect x="221.3" y="415.0" width="12.599999999999994" height="19.30000000000001" fill="#68a840"/>
<line x1="227.60000000000002" y1="408.6" x2="227.60000000000002" y2="415.0" stroke="#111" stroke-width="1.1"/>
<line x1="224.40000000000003" y1="408.6" x2="230.8" y2="408.6" stroke="#111" stroke-width="1.2"/>
<line x1="144.4" y1="352.4" x2="144.4" y2="434.3" stroke="#111" stroke-width="1.3"/>
<line x1="141.0" y1="434.3" x2="243.4" y2="434.3" stroke="#111" stroke-width="1.3"/>
<line x1="141.0" y1="355.4" x2="144.4" y2="355.4" stroke="#111" stroke-width="1.1"/>
<text x="138.4" y="358.2" font-size="8.3" text-anchor="end" fill="#1a1a1a">0.08</text>
<line x1="141.0" y1="375.1" x2="144.4" y2="375.1" stroke="#111" stroke-width="1.1"/>
<text x="138.4" y="377.90000000000003" font-size="8.3" text-anchor="end" fill="#1a1a1a">0.06</text>
<line x1="141.0" y1="394.9" x2="144.4" y2="394.9" stroke="#111" stroke-width="1.1"/>
<text x="138.4" y="397.7" font-size="8.3" text-anchor="end" fill="#1a1a1a">0.04</text>
<line x1="141.0" y1="414.5" x2="144.4" y2="414.5" stroke="#111" stroke-width="1.1"/>
<text x="138.4" y="417.3" font-size="8.3" text-anchor="end" fill="#1a1a1a">0.02</text>
<line x1="141.0" y1="434.3" x2="144.4" y2="434.3" stroke="#111" stroke-width="1.1"/>
<text x="138.4" y="437.1" font-size="8.3" text-anchor="end" fill="#1a1a1a">0.00</text>
<line x1="168.6" y1="434.3" x2="168.6" y2="437.3" stroke="#111" stroke-width="1.1"/>
<line x1="218.3" y1="434.3" x2="218.3" y2="437.3" stroke="#111" stroke-width="1.1"/>
<text x="169.1" y="447.5" font-size="8.3" text-anchor="middle" fill="#1a1a1a">EtOH</text>
<text x="218.0" y="447.5" font-size="8.3" text-anchor="middle" fill="#1a1a1a">4-OHT</text>
<text x="114.6" y="393.1" font-size="9.0" text-anchor="middle" fill="#1a1a1a" transform="rotate(-90 114.6 393.1)">Percent input</text>
<rect x="162.1" y="338.0" width="9.6" height="7.0" fill="#ad0a2e"/>
<text x="174.9" y="344.1" font-size="7.9" text-anchor="start" fill="#1a1a1a">IgG</text>
<rect x="194.2" y="338.0" width="9.6" height="7.0" fill="#68a840"/>
<text x="207.0" y="344.1" font-size="7.9" text-anchor="start" fill="#1a1a1a">TAL1</text>
<path d="M178.9,366.0 L178.9,363.9 L227.0,363.9 L227.0,403.4" fill="none" stroke="#111" stroke-width="1.1"/>
<text x="202.8" y="363.0" font-size="8.5" text-anchor="middle" font-weight="bold" fill="#111">*</text>
<rect x="294.2" y="433.0" width="5.199999999999989" height="1.3000000000000114" fill="#5a1020"/>
<line x1="296.79999999999995" y1="432.4" x2="296.79999999999995" y2="433.0" stroke="#111" stroke-width="1.1"/>
<line x1="293.59999999999997" y1="432.4" x2="299.99999999999994" y2="432.4" stroke="#111" stroke-width="1.2"/>
<rect x="309.2" y="379.8" width="12.5" height="54.5" fill="#532865"/>
<line x1="315.45" y1="370.2" x2="315.45" y2="379.8" stroke="#111" stroke-width="1.1"/>
<line x1="312.25" y1="370.2" x2="318.65" y2="370.2" stroke="#111" stroke-width="1.2"/>
<rect x="343.6" y="433.3" width="6.199999999999989" height="1.0" fill="#5a1020"/>
<rect x="359.0" y="418.9" width="12.199999999999989" height="15.400000000000034" fill="#532865"/>
<line x1="365.1" y1="410.8" x2="365.1" y2="418.9" stroke="#111" stroke-width="1.1"/>
<line x1="361.90000000000003" y1="410.8" x2="368.3" y2="410.8" stroke="#111" stroke-width="1.2"/>
<line x1="280.7" y1="352.3" x2="280.7" y2="434.3" stroke="#111" stroke-width="1.3"/>
<line x1="277.3" y1="434.3" x2="377.0" y2="434.3" stroke="#111" stroke-width="1.3"/>
<line x1="277.3" y1="355.3" x2="280.7" y2="355.3" stroke="#111" stroke-width="1.1"/>
<text x="274.7" y="358.1" font-size="8.3" text-anchor="end" fill="#1a1a1a">2.0</text>
<line x1="277.3" y1="375.1" x2="280.7" y2="375.1" stroke="#111" stroke-width="1.1"/>
<text x="274.7" y="377.90000000000003" font-size="8.3" text-anchor="end" fill="#1a1a1a">1.5</text>
<line x1="277.3" y1="394.8" x2="280.7" y2="394.8" stroke="#111" stroke-width="1.1"/>
<text x="274.7" y="397.6" font-size="8.3" text-anchor="end" fill="#1a1a1a">1.0</text>
<line x1="277.3" y1="414.5" x2="280.7" y2="414.5" stroke="#111" stroke-width="1.1"/>
<text x="274.7" y="417.3" font-size="8.3" text-anchor="end" fill="#1a1a1a">0.5</text>
<line x1="277.3" y1="434.3" x2="280.7" y2="434.3" stroke="#111" stroke-width="1.1"/>
<text x="274.7" y="437.1" font-size="8.3" text-anchor="end" fill="#1a1a1a">0.0</text>
<line x1="306.1" y1="434.3" x2="306.1" y2="437.3" stroke="#111" stroke-width="1.1"/>
<line x1="355.6" y1="434.3" x2="355.6" y2="437.3" stroke="#111" stroke-width="1.1"/>
<text x="306.6" y="447.5" font-size="8.3" text-anchor="middle" fill="#1a1a1a">EtOH</text>
<text x="355.1" y="447.5" font-size="8.3" text-anchor="middle" fill="#1a1a1a">4-OHT</text>
<text x="256.6" y="393.1" font-size="9.0" text-anchor="middle" fill="#1a1a1a" transform="rotate(-90 256.6 393.1)">Percent input</text>
<rect x="291.4" y="338.0" width="9.6" height="7.0" fill="#ad0a2e"/>
<text x="304.2" y="344.1" font-size="7.9" text-anchor="start" fill="#1a1a1a">IgG</text>
<rect x="323.2" y="338.0" width="9.6" height="7.0" fill="#532865"/>
<text x="336.0" y="344.1" font-size="7.9" text-anchor="start" fill="#1a1a1a">H3K27ac</text>
<path d="M315.7,367.3 L315.7,362.7 L365.1,362.7 L365.1,403.5" fill="none" stroke="#111" stroke-width="1.1"/>
<text x="340.5" y="361.8" font-size="8.5" text-anchor="middle" font-weight="bold" fill="#111">***</text>
<rect x="423.0" y="433.0" width="6.600000000000023" height="1.3999999999999773" fill="#5a1020"/>
<line x1="426.3" y1="432.6" x2="426.3" y2="433.0" stroke="#111" stroke-width="1.1"/>
<line x1="423.1" y1="432.6" x2="429.5" y2="432.6" stroke="#111" stroke-width="1.2"/>
<rect x="440.0" y="391.4" width="12.800000000000011" height="43.0" fill="#dc8c1c"/>
<line x1="446.4" y1="387.4" x2="446.4" y2="391.4" stroke="#111" stroke-width="1.1"/>
<line x1="443.2" y1="387.4" x2="449.59999999999997" y2="387.4" stroke="#111" stroke-width="1.2"/>
<rect x="476.0" y="433.3" width="5.600000000000023" height="1.099999999999966" fill="#5a1020"/>
<rect x="493.0" y="383.3" width="12.600000000000023" height="51.099999999999966" fill="#dc8c1c"/>
<line x1="499.3" y1="363.1" x2="499.3" y2="383.3" stroke="#111" stroke-width="1.1"/>
<line x1="496.1" y1="363.1" x2="502.5" y2="363.1" stroke="#111" stroke-width="1.2"/>
<line x1="413.8" y1="352.4" x2="413.8" y2="434.4" stroke="#111" stroke-width="1.3"/>
<line x1="410.40000000000003" y1="434.4" x2="512.0" y2="434.4" stroke="#111" stroke-width="1.3"/>
<line x1="410.40000000000003" y1="355.0" x2="413.8" y2="355.0" stroke="#111" stroke-width="1.1"/>
<text x="407.8" y="357.8" font-size="8.3" text-anchor="end" fill="#1a1a1a">3</text>
<line x1="410.40000000000003" y1="381.5" x2="413.8" y2="381.5" stroke="#111" stroke-width="1.1"/>
<text x="407.8" y="384.3" font-size="8.3" text-anchor="end" fill="#1a1a1a">2</text>
<line x1="410.40000000000003" y1="408.1" x2="413.8" y2="408.1" stroke="#111" stroke-width="1.1"/>
<text x="407.8" y="410.90000000000003" font-size="8.3" text-anchor="end" fill="#1a1a1a">1</text>
<line x1="410.40000000000003" y1="434.4" x2="413.8" y2="434.4" stroke="#111" stroke-width="1.1"/>
<text x="407.8" y="437.2" font-size="8.3" text-anchor="end" fill="#1a1a1a">0</text>
<line x1="436.2" y1="434.4" x2="436.2" y2="437.4" stroke="#111" stroke-width="1.1"/>
<line x1="489.6" y1="434.4" x2="489.6" y2="437.4" stroke="#111" stroke-width="1.1"/>
<text x="436.6" y="447.59999999999997" font-size="8.3" text-anchor="middle" fill="#1a1a1a">EtOH</text>
<text x="489.5" y="447.59999999999997" font-size="8.3" text-anchor="middle" fill="#1a1a1a">4-OHT</text>
<text x="395.8" y="393.1" font-size="9.0" text-anchor="middle" fill="#1a1a1a" transform="rotate(-90 395.8 393.1)">Percent input</text>
<rect x="424.5" y="338.0" width="9.6" height="7.0" fill="#ad0a2e"/>
<text x="437.3" y="344.1" font-size="7.9" text-anchor="start" fill="#1a1a1a">IgG</text>
<rect x="455.6" y="338.0" width="9.6" height="7.0" fill="#dc8c1c"/>
<text x="468.40000000000003" y="344.1" font-size="7.9" text-anchor="start" fill="#1a1a1a">Histone 3</text>
<text x="7.6" y="476.4" font-size="11.8" text-anchor="start" font-weight="bold" fill="#000" style="stroke-width:0">D</text>
<rect x="57.6" y="566.6" width="12.999999999999993" height="6.399999999999977" fill="#ad0a2e"/>
<line x1="64.1" y1="561.3" x2="64.1" y2="566.6" stroke="#111" stroke-width="1.1"/>
<line x1="60.89999999999999" y1="561.3" x2="67.3" y2="561.3" stroke="#111" stroke-width="1.2"/>
<rect x="77.1" y="515.4" width="12.5" height="57.60000000000002" fill="#2f4c82"/>
<line x1="83.35" y1="505.3" x2="83.35" y2="515.4" stroke="#111" stroke-width="1.1"/>
<line x1="80.14999999999999" y1="505.3" x2="86.55" y2="505.3" stroke="#111" stroke-width="1.2"/>
<line x1="51.3" y1="493.6" x2="51.3" y2="573.0" stroke="#111" stroke-width="1.3"/>
<line x1="47.9" y1="573.0" x2="92.8" y2="573.0" stroke="#111" stroke-width="1.3"/>
<line x1="47.9" y1="495.8" x2="51.3" y2="495.8" stroke="#111" stroke-width="1.1"/>
<text x="45.3" y="498.6" font-size="8.3" text-anchor="end" fill="#1a1a1a">0.4</text>
<line x1="47.9" y1="515.4" x2="51.3" y2="515.4" stroke="#111" stroke-width="1.1"/>
<text x="45.3" y="518.1999999999999" font-size="8.3" text-anchor="end" fill="#1a1a1a">0.3</text>
<line x1="47.9" y1="534.9" x2="51.3" y2="534.9" stroke="#111" stroke-width="1.1"/>
<text x="45.3" y="537.6999999999999" font-size="8.3" text-anchor="end" fill="#1a1a1a">0.2</text>
<line x1="47.9" y1="554.0" x2="51.3" y2="554.0" stroke="#111" stroke-width="1.1"/>
<text x="45.3" y="556.8" font-size="8.3" text-anchor="end" fill="#1a1a1a">0.1</text>
<line x1="47.9" y1="573.0" x2="51.3" y2="573.0" stroke="#111" stroke-width="1.1"/>
<text x="45.3" y="575.8" font-size="8.3" text-anchor="end" fill="#1a1a1a">0.0</text>
<line x1="64.2" y1="573.0" x2="64.2" y2="576.0" stroke="#111" stroke-width="1.1"/>
<line x1="83.5" y1="573.0" x2="83.5" y2="576.0" stroke="#111" stroke-width="1.1"/>
<text x="64.6" y="587.3" font-size="8.3" text-anchor="middle" fill="#1a1a1a">IgG</text>
<text x="75.4" y="587.3" font-size="8.3" text-anchor="start" fill="#1a1a1a">RUNX1</text>
<text x="27.3" y="533.05" font-size="9.0" text-anchor="middle" fill="#1a1a1a" transform="rotate(-90 27.3 533.05)">Percent input</text>
<path d="M64.2,559.8 L64.2,498.9 L83.5,498.9 L83.5,501.8" fill="none" stroke="#111" stroke-width="1.1"/>
<text x="73.4" y="497.6" font-size="8.5" text-anchor="middle" font-weight="bold" fill="#111">**</text>
<rect x="153.4" y="569.5" width="12.199999999999989" height="3.0" fill="#ad0a2e"/>
<line x1="159.5" y1="567.2" x2="159.5" y2="569.5" stroke="#111" stroke-width="1.1"/>
<line x1="156.3" y1="567.2" x2="162.7" y2="567.2" stroke="#111" stroke-width="1.2"/>
<rect x="171.2" y="509.9" width="12.200000000000017" height="62.60000000000002" fill="#68a840"/>
<line x1="177.3" y1="502.4" x2="177.3" y2="509.9" stroke="#111" stroke-width="1.1"/>
<line x1="174.10000000000002" y1="502.4" x2="180.5" y2="502.4" stroke="#111" stroke-width="1.2"/>
<rect x="201.6" y="560.0" width="12.400000000000006" height="12.5" fill="#ad0a2e"/>
<line x1="207.8" y1="555.7" x2="207.8" y2="560.0" stroke="#111" stroke-width="1.1"/>
<line x1="204.60000000000002" y1="555.7" x2="211.0" y2="555.7" stroke="#111" stroke-width="1.2"/>
<rect x="220.0" y="540.7" width="12.199999999999989" height="31.799999999999955" fill="#68a840"/>
<line x1="226.1" y1="535.5" x2="226.1" y2="540.7" stroke="#111" stroke-width="1.1"/>
<line x1="222.9" y1="535.5" x2="229.29999999999998" y2="535.5" stroke="#111" stroke-width="1.2"/>
<line x1="143.8" y1="493.6" x2="143.8" y2="572.5" stroke="#111" stroke-width="1.3"/>
<line x1="140.4" y1="572.5" x2="244.0" y2="572.5" stroke="#111" stroke-width="1.3"/>
<line x1="140.4" y1="496.0" x2="143.8" y2="496.0" stroke="#111" stroke-width="1.1"/>
<text x="137.8" y="498.8" font-size="8.3" text-anchor="end" fill="#1a1a1a">0.3</text>
<line x1="140.4" y1="521.6" x2="143.8" y2="521.6" stroke="#111" stroke-width="1.1"/>
<text x="137.8" y="524.4" font-size="8.3" text-anchor="end" fill="#1a1a1a">0.2</text>
<line x1="140.4" y1="547.1" x2="143.8" y2="547.1" stroke="#111" stroke-width="1.1"/>
<text x="137.8" y="549.9" font-size="8.3" text-anchor="end" fill="#1a1a1a">0.1</text>
<line x1="140.4" y1="572.5" x2="143.8" y2="572.5" stroke="#111" stroke-width="1.1"/>
<text x="137.8" y="575.3" font-size="8.3" text-anchor="end" fill="#1a1a1a">0.0</text>
<line x1="168.2" y1="572.5" x2="168.2" y2="575.5" stroke="#111" stroke-width="1.1"/>
<line x1="216.3" y1="572.5" x2="216.3" y2="575.5" stroke="#111" stroke-width="1.1"/>
<text x="168.2" y="586.8" font-size="8.3" text-anchor="middle" fill="#1a1a1a">EtOH</text>
<text x="215.4" y="586.8" font-size="8.3" text-anchor="middle" fill="#1a1a1a">4-OHT</text>
<text x="119.3" y="533.05" font-size="9.0" text-anchor="middle" fill="#1a1a1a" transform="rotate(-90 119.3 533.05)">Percent input</text>
<rect x="161.1" y="476.6" width="9.6" height="7.0" fill="#ad0a2e"/>
<text x="173.9" y="482.70000000000005" font-size="7.9" text-anchor="start" fill="#1a1a1a">IgG</text>
<rect x="192.8" y="476.6" width="9.6" height="7.0" fill="#68a840"/>
<text x="205.60000000000002" y="482.70000000000005" font-size="7.9" text-anchor="start" fill="#1a1a1a">TAL1</text>
<path d="M177.4,500.0 L177.4,496.9 L225.5,496.9 L225.5,533.5" fill="none" stroke="#111" stroke-width="1.1"/>
<text x="201.8" y="496.4" font-size="8.5" text-anchor="middle" font-weight="bold" fill="#111">**</text>
<rect x="307.5" y="517.4" width="12.300000000000011" height="55.80000000000007" fill="#532865"/>
<line x1="313.65" y1="501.0" x2="313.65" y2="517.4" stroke="#111" stroke-width="1.1"/>
<line x1="310.45" y1="501.0" x2="316.84999999999997" y2="501.0" stroke="#111" stroke-width="1.2"/>
<rect x="358.5" y="554.9" width="12.199999999999989" height="18.300000000000068" fill="#532865"/>
<line x1="364.6" y1="549.0" x2="364.6" y2="554.9" stroke="#111" stroke-width="1.1"/>
<line x1="361.40000000000003" y1="549.0" x2="367.8" y2="549.0" stroke="#111" stroke-width="1.2"/>
<line x1="281.4" y1="493.4" x2="281.4" y2="573.2" stroke="#111" stroke-width="1.3"/>
<line x1="278.0" y1="573.2" x2="377.0" y2="573.2" stroke="#111" stroke-width="1.3"/>
<line x1="278.0" y1="495.6" x2="281.4" y2="495.6" stroke="#111" stroke-width="1.1"/>
<text x="275.4" y="498.40000000000003" font-size="8.3" text-anchor="end" fill="#1a1a1a">160</text>
<line x1="278.0" y1="515.3" x2="281.4" y2="515.3" stroke="#111" stroke-width="1.1"/>
<text x="275.4" y="518.0999999999999" font-size="8.3" text-anchor="end" fill="#1a1a1a">120</text>
<line x1="278.0" y1="534.4" x2="281.4" y2="534.4" stroke="#111" stroke-width="1.1"/>
<text x="275.4" y="537.1999999999999" font-size="8.3" text-anchor="end" fill="#1a1a1a">80</text>
<line x1="278.0" y1="553.8" x2="281.4" y2="553.8" stroke="#111" stroke-width="1.1"/>
<text x="275.4" y="556.5999999999999" font-size="8.3" text-anchor="end" fill="#1a1a1a">40</text>
<line x1="278.0" y1="573.2" x2="281.4" y2="573.2" stroke="#111" stroke-width="1.1"/>
<text x="275.4" y="576.0" font-size="8.3" text-anchor="end" fill="#1a1a1a">0</text>
<line x1="303.7" y1="573.2" x2="303.7" y2="576.2" stroke="#111" stroke-width="1.1"/>
<line x1="355.1" y1="573.2" x2="355.1" y2="576.2" stroke="#111" stroke-width="1.1"/>
<text x="303.8" y="587.0" font-size="8.3" text-anchor="middle" fill="#1a1a1a">EtOH</text>
<text x="354.7" y="587.0" font-size="8.3" text-anchor="middle" fill="#1a1a1a">4-OHT</text>
<text x="254.3" y="533.05" font-size="9.0" text-anchor="middle" fill="#1a1a1a" transform="rotate(-90 254.3 533.05)">Percent input</text>
<rect x="291.4" y="476.6" width="9.6" height="7.0" fill="#ad0a2e"/>
<text x="304.2" y="482.70000000000005" font-size="7.9" text-anchor="start" fill="#1a1a1a">IgG</text>
<rect x="323.2" y="476.6" width="9.6" height="7.0" fill="#532865"/>
<text x="336.0" y="482.70000000000005" font-size="7.9" text-anchor="start" fill="#1a1a1a">H3K27ac</text>
<path d="M313.6,499.0 L313.6,495.6 L365.3,495.6 L365.3,543.6" fill="none" stroke="#111" stroke-width="1.1"/>
<text x="339.3" y="494.0" font-size="8.5" text-anchor="middle" font-weight="bold" fill="#111">**</text>
<rect x="425.6" y="572.2" width="5.599999999999966" height="1.0" fill="#5a1020"/>
<line x1="428.4" y1="571.4" x2="428.4" y2="572.2" stroke="#111" stroke-width="1.1"/>
<line x1="425.2" y1="571.4" x2="431.59999999999997" y2="571.4" stroke="#111" stroke-width="1.2"/>
<rect x="440.6" y="549.0" width="12.0" height="24.200000000000045" fill="#dc8c1c"/>
<line x1="446.6" y1="544.1" x2="446.6" y2="549.0" stroke="#111" stroke-width="1.1"/>
<line x1="443.40000000000003" y1="544.1" x2="449.8" y2="544.1" stroke="#111" stroke-width="1.2"/>
<rect x="471.0" y="570.8" width="11.399999999999977" height="2.400000000000091" fill="#ad0a2e"/>
<line x1="476.7" y1="569.2" x2="476.7" y2="570.8" stroke="#111" stroke-width="1.1"/>
<line x1="473.5" y1="569.2" x2="479.9" y2="569.2" stroke="#111" stroke-width="1.2"/>
<rect x="489.0" y="519.8" width="11.800000000000011" height="53.40000000000009" fill="#dc8c1c"/>
<line x1="494.9" y1="507.7" x2="494.9" y2="519.8" stroke="#111" stroke-width="1.1"/>
<line x1="491.7" y1="507.7" x2="498.09999999999997" y2="507.7" stroke="#111" stroke-width="1.2"/>
<line x1="413.7" y1="493.4" x2="413.7" y2="573.2" stroke="#111" stroke-width="1.3"/>
<line x1="410.3" y1="573.2" x2="510.2" y2="573.2" stroke="#111" stroke-width="1.3"/>
<line x1="410.3" y1="495.8" x2="413.7" y2="495.8" stroke="#111" stroke-width="1.1"/>
<text x="407.7" y="498.6" font-size="8.3" text-anchor="end" fill="#1a1a1a">0.8</text>
<line x1="410.3" y1="515.3" x2="413.7" y2="515.3" stroke="#111" stroke-width="1.1"/>
<text x="407.7" y="518.0999999999999" font-size="8.3" text-anchor="end" fill="#1a1a1a">0.6</text>
<line x1="410.3" y1="534.7" x2="413.7" y2="534.7" stroke="#111" stroke-width="1.1"/>
<text x="407.7" y="537.5" font-size="8.3" text-anchor="end" fill="#1a1a1a">0.4</text>
<line x1="410.3" y1="553.8" x2="413.7" y2="553.8" stroke="#111" stroke-width="1.1"/>
<text x="407.7" y="556.5999999999999" font-size="8.3" text-anchor="end" fill="#1a1a1a">0.2</text>
<line x1="410.3" y1="573.2" x2="413.7" y2="573.2" stroke="#111" stroke-width="1.1"/>
<text x="407.7" y="576.0" font-size="8.3" text-anchor="end" fill="#1a1a1a">0.0</text>
<line x1="437.7" y1="573.2" x2="437.7" y2="576.2" stroke="#111" stroke-width="1.1"/>
<line x1="485.2" y1="573.2" x2="485.2" y2="576.2" stroke="#111" stroke-width="1.1"/>
<text x="437.8" y="586.8000000000001" font-size="8.3" text-anchor="middle" fill="#1a1a1a">EtOH</text>
<text x="485.0" y="586.8000000000001" font-size="8.3" text-anchor="middle" fill="#1a1a1a">4-OHT</text>
<text x="388.7" y="533.05" font-size="9.0" text-anchor="middle" fill="#1a1a1a" transform="rotate(-90 388.7 533.05)">Percent input</text>
<rect x="423.1" y="476.6" width="9.6" height="7.0" fill="#ad0a2e"/>
<text x="435.90000000000003" y="482.70000000000005" font-size="7.9" text-anchor="start" fill="#1a1a1a">IgG</text>
<rect x="454.3" y="476.6" width="9.6" height="7.0" fill="#dc8c1c"/>
<text x="467.1" y="482.70000000000005" font-size="7.9" text-anchor="start" fill="#1a1a1a">Histone 3</text>
<path d="M446.6,542.2 L446.6,499.9 L495.2,499.9 L495.2,504.5" fill="none" stroke="#111" stroke-width="1.1"/>
<text x="470.3" y="498.8" font-size="8.5" text-anchor="middle" font-weight="bold" fill="#111">**</text>
<rect x="0.6" y="0.6" width="518.8" height="594.8" fill="none" stroke="#000" stroke-width="1.4"/>
</svg>
</body></html>
